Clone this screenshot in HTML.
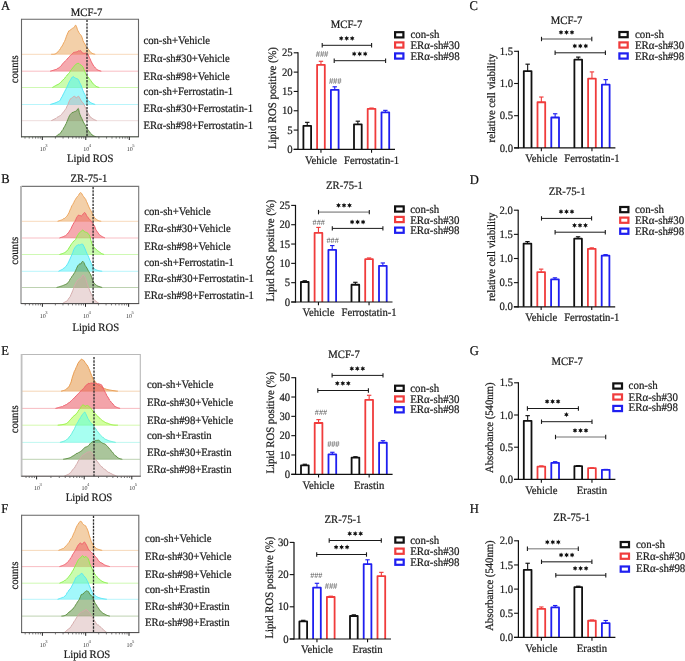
<!DOCTYPE html>
<html><head><meta charset="utf-8"><title>Figure</title>
<style>
html,body{margin:0;padding:0;background:#fff;}
body{width:685px;height:661px;overflow:hidden;}
svg{display:block;font-family:"Liberation Serif", serif;text-rendering:geometricPrecision;filter:blur(0.3px);}
</style></head>
<body>
<svg width="685" height="661" viewBox="0 0 685 661">
<rect x="0" y="0" width="685" height="661" fill="#fff"/>
<text x="0" y="0" transform="translate(1,10) scale(1,1.06)" font-size="12.6" text-anchor="start" fill="#111" stroke="#111" stroke-width="0.22" >A</text>
<text x="0" y="0" transform="translate(1.2,183) scale(1,1.06)" font-size="12.6" text-anchor="start" fill="#111" stroke="#111" stroke-width="0.22" >B</text>
<text x="0" y="0" transform="translate(469.6,9.5) scale(1,1.06)" font-size="12.6" text-anchor="start" fill="#111" stroke="#111" stroke-width="0.22" >C</text>
<text x="0" y="0" transform="translate(469.7,183.6) scale(1,1.06)" font-size="12.6" text-anchor="start" fill="#111" stroke="#111" stroke-width="0.22" >D</text>
<text x="0" y="0" transform="translate(1.2,355.4) scale(1,1.06)" font-size="12.6" text-anchor="start" fill="#111" stroke="#111" stroke-width="0.22" >E</text>
<text x="0" y="0" transform="translate(1.2,512.8) scale(1,1.06)" font-size="12.6" text-anchor="start" fill="#111" stroke="#111" stroke-width="0.22" >F</text>
<text x="0" y="0" transform="translate(469.7,355.3) scale(1,1.06)" font-size="12.6" text-anchor="start" fill="#111" stroke="#111" stroke-width="0.22" >G</text>
<text x="0" y="0" transform="translate(469.7,513) scale(1,1.06)" font-size="12.6" text-anchor="start" fill="#111" stroke="#111" stroke-width="0.22" >H</text>
<path d="M21.5,54.3 L51.2,54.3 L51.86,54.27 L52.79,54.27 L53.88,54.22 L54.99,54.02 L56,53.6 L56.91,52.93 L57.8,51.9 L58.68,50.73 L59.55,50.02 L60.4,48.7 L61.25,47.08 L62.09,46.11 L62.91,44.52 L63.72,42.73 L64.5,41.5 L65.48,39.17 L66.46,36.16 L67.36,34.05 L68.1,32.3 L68.88,30.78 L69.6,30.8 L70.56,29.62 L71.7,28.94 L72.7,28.2 L73.71,27.82 L74.5,27 L75.17,25.46 L75.8,25.2 L76.54,26.66 L77.3,29.2 L77.98,30.88 L78.8,32.3 L79.59,33.73 L80.5,34.52 L81.4,35.9 L82.22,37.85 L83.03,40.7 L83.9,42.5 L84.85,43.93 L85.87,46.26 L87,47.6 L87.76,48.5 L88.57,49.51 L89.41,50.59 L90.26,51.74 L91.1,52.7 L91.99,53.27 L92.94,53.67 L93.86,53.94 L94.64,54.14 L95.2,54.3 L138.5,54.3 Z" fill="rgba(232,165,90,0.52)" stroke="none"/>
<line x1="21.5" y1="54.3" x2="138.5" y2="54.3" stroke="#eca257" stroke-width="0.9" stroke-opacity="0.45"/>
<path d="M51.2,54.3 L51.86,54.27 L52.79,54.27 L53.88,54.22 L54.99,54.02 L56,53.6 L56.91,52.93 L57.8,51.9 L58.68,50.73 L59.55,50.02 L60.4,48.7 L61.25,47.08 L62.09,46.11 L62.91,44.52 L63.72,42.73 L64.5,41.5 L65.48,39.17 L66.46,36.16 L67.36,34.05 L68.1,32.3 L68.88,30.78 L69.6,30.8 L70.56,29.62 L71.7,28.94 L72.7,28.2 L73.71,27.82 L74.5,27 L75.17,25.46 L75.8,25.2 L76.54,26.66 L77.3,29.2 L77.98,30.88 L78.8,32.3 L79.59,33.73 L80.5,34.52 L81.4,35.9 L82.22,37.85 L83.03,40.7 L83.9,42.5 L84.85,43.93 L85.87,46.26 L87,47.6 L87.76,48.5 L88.57,49.51 L89.41,50.59 L90.26,51.74 L91.1,52.7 L91.99,53.27 L92.94,53.67 L93.86,53.94 L94.64,54.14 L95.2,54.3" fill="none" stroke="#eca257" stroke-width="0.95" stroke-linejoin="round"/>
<path d="M21.5,71.2 L50.2,71.2 L50.69,71.03 L51.33,70.84 L52.09,70.63 L52.94,70.38 L53.86,70.1 L54.81,69.78 L55.76,69.43 L56.7,69.3 L57.59,68.32 L58.4,68.1 L59.34,67.47 L60.25,66.71 L61.14,65.61 L62.01,64.82 L62.88,63.44 L63.74,62.45 L64.62,61.6 L65.5,60.9 L66.31,60.19 L67.15,59.06 L68.01,58.02 L68.86,57.29 L69.71,56.25 L70.53,55.24 L71.31,54.84 L72.04,54.05 L72.7,53.3 L73.73,52.37 L74.59,52.27 L75.34,52.04 L76.06,52.21 L76.8,51.7 L77.78,51.48 L78.76,50.68 L79.66,50.95 L80.4,50.5 L81.18,51.17 L81.9,52.7 L82.84,52.95 L83.95,53.38 L85,53.3 L85.87,53.01 L86.68,53.29 L87.5,53.8 L88.34,54.74 L89.2,57.1 L90.1,58.9 L91.03,61.14 L92,63.1 L93.1,65 L93.85,66.38 L94.66,66.94 L95.51,68.21 L96.36,68.98 L97.2,69.6 L98.09,70.14 L99.04,70.53 L99.96,70.82 L100.74,71.03 L101.3,71.2 L138.5,71.2 Z" fill="rgba(234,82,92,0.49)" stroke="none"/>
<line x1="21.5" y1="71.2" x2="138.5" y2="71.2" stroke="#f05f6c" stroke-width="0.9" stroke-opacity="0.45"/>
<path d="M50.2,71.2 L50.69,71.03 L51.33,70.84 L52.09,70.63 L52.94,70.38 L53.86,70.1 L54.81,69.78 L55.76,69.43 L56.7,69.3 L57.59,68.32 L58.4,68.1 L59.34,67.47 L60.25,66.71 L61.14,65.61 L62.01,64.82 L62.88,63.44 L63.74,62.45 L64.62,61.6 L65.5,60.9 L66.31,60.19 L67.15,59.06 L68.01,58.02 L68.86,57.29 L69.71,56.25 L70.53,55.24 L71.31,54.84 L72.04,54.05 L72.7,53.3 L73.73,52.37 L74.59,52.27 L75.34,52.04 L76.06,52.21 L76.8,51.7 L77.78,51.48 L78.76,50.68 L79.66,50.95 L80.4,50.5 L81.18,51.17 L81.9,52.7 L82.84,52.95 L83.95,53.38 L85,53.3 L85.87,53.01 L86.68,53.29 L87.5,53.8 L88.34,54.74 L89.2,57.1 L90.1,58.9 L91.03,61.14 L92,63.1 L93.1,65 L93.85,66.38 L94.66,66.94 L95.51,68.21 L96.36,68.98 L97.2,69.6 L98.09,70.14 L99.04,70.53 L99.96,70.82 L100.74,71.03 L101.3,71.2" fill="none" stroke="#f05f6c" stroke-width="0.95" stroke-linejoin="round"/>
<path d="M21.5,87.5 L52.3,87.5 L52.8,87.21 L53.45,86.84 L54.23,86.41 L55.1,85.93 L56.03,85.47 L56.99,84.81 L57.94,84.56 L58.84,84.08 L59.68,83.12 L60.4,82.6 L61.44,81.83 L62.36,80.38 L63.2,79.95 L63.99,78.94 L64.74,78.3 L65.5,77 L66.42,76.26 L67.31,74.84 L68.15,73.99 L68.92,73.35 L69.6,72.4 L70.78,70.32 L71.7,69.3 L72.72,67.94 L73.7,66.8 L74.58,65.56 L75.5,65 L76.63,63.7 L77.8,63.4 L78.92,63.4 L80,64.5 L80.96,65.17 L81.9,65.7 L82.89,66.94 L83.9,69.3 L84.83,71.54 L86,74.4 L86.66,75.31 L87.41,76.7 L88.22,77.03 L89.09,78.37 L90,79.5 L90.81,80.56 L91.69,81.97 L92.59,83.07 L93.5,84.22 L94.38,84.72 L95.2,85.7 L96.16,86.37 L97.12,86.82 L98.01,87.12 L98.76,87.33 L99.3,87.5 L138.5,87.5 Z" fill="rgba(150,250,95,0.50)" stroke="none"/>
<line x1="21.5" y1="87.5" x2="138.5" y2="87.5" stroke="#88f046" stroke-width="0.9" stroke-opacity="0.45"/>
<path d="M52.3,87.5 L52.8,87.21 L53.45,86.84 L54.23,86.41 L55.1,85.93 L56.03,85.47 L56.99,84.81 L57.94,84.56 L58.84,84.08 L59.68,83.12 L60.4,82.6 L61.44,81.83 L62.36,80.38 L63.2,79.95 L63.99,78.94 L64.74,78.3 L65.5,77 L66.42,76.26 L67.31,74.84 L68.15,73.99 L68.92,73.35 L69.6,72.4 L70.78,70.32 L71.7,69.3 L72.72,67.94 L73.7,66.8 L74.58,65.56 L75.5,65 L76.63,63.7 L77.8,63.4 L78.92,63.4 L80,64.5 L80.96,65.17 L81.9,65.7 L82.89,66.94 L83.9,69.3 L84.83,71.54 L86,74.4 L86.66,75.31 L87.41,76.7 L88.22,77.03 L89.09,78.37 L90,79.5 L90.81,80.56 L91.69,81.97 L92.59,83.07 L93.5,84.22 L94.38,84.72 L95.2,85.7 L96.16,86.37 L97.12,86.82 L98.01,87.12 L98.76,87.33 L99.3,87.5" fill="none" stroke="#88f046" stroke-width="0.95" stroke-linejoin="round"/>
<path d="M21.5,104.5 L50.2,104.5 L50.71,104.33 L51.39,104.12 L52.2,103.87 L53.11,103.59 L54.08,103.29 L55.06,102.96 L56.02,102.61 L56.92,102.18 L57.73,101.76 L58.4,101.5 L59.6,100.89 L60.42,99.97 L61.14,98.12 L62,96.9 L62.86,95.07 L63.79,93.28 L64.75,91.3 L65.7,89.54 L66.6,87.7 L67.48,85.99 L68.35,83.9 L69.2,81.94 L69.99,80.72 L70.7,79.5 L71.67,77.84 L72.46,77.03 L73.2,76.5 L74.25,77.38 L75.3,78 L76.16,78.51 L77.06,78.66 L77.8,79 L78.26,79.46 L78.8,80.5 L79.68,82.63 L80.79,84.71 L81.9,87.7 L82.9,90.46 L83.9,92.78 L85,94.9 L85.71,96.63 L86.43,98.01 L87.2,99.06 L88.04,100.34 L89,101.5 L89.82,101.81 L90.79,102.71 L91.83,103.2 L92.86,103.61 L93.82,103.97 L94.62,104.26 L95.2,104.5 L138.5,104.5 Z" fill="rgba(70,242,248,0.50)" stroke="none"/>
<line x1="21.5" y1="104.5" x2="138.5" y2="104.5" stroke="#52e6f6" stroke-width="0.9" stroke-opacity="0.45"/>
<path d="M50.2,104.5 L50.71,104.33 L51.39,104.12 L52.2,103.87 L53.11,103.59 L54.08,103.29 L55.06,102.96 L56.02,102.61 L56.92,102.18 L57.73,101.76 L58.4,101.5 L59.6,100.89 L60.42,99.97 L61.14,98.12 L62,96.9 L62.86,95.07 L63.79,93.28 L64.75,91.3 L65.7,89.54 L66.6,87.7 L67.48,85.99 L68.35,83.9 L69.2,81.94 L69.99,80.72 L70.7,79.5 L71.67,77.84 L72.46,77.03 L73.2,76.5 L74.25,77.38 L75.3,78 L76.16,78.51 L77.06,78.66 L77.8,79 L78.26,79.46 L78.8,80.5 L79.68,82.63 L80.79,84.71 L81.9,87.7 L82.9,90.46 L83.9,92.78 L85,94.9 L85.71,96.63 L86.43,98.01 L87.2,99.06 L88.04,100.34 L89,101.5 L89.82,101.81 L90.79,102.71 L91.83,103.2 L92.86,103.61 L93.82,103.97 L94.62,104.26 L95.2,104.5" fill="none" stroke="#52e6f6" stroke-width="0.95" stroke-linejoin="round"/>
<path d="M21.5,120.7 L51.2,120.7 L51.7,120.44 L52.36,120.11 L53.14,119.73 L54.02,119.31 L54.96,118.85 L55.94,118.46 L56.93,117.46 L57.89,116.92 L58.82,116.48 L59.66,115.88 L60.4,115.6 L61.42,114.56 L62.35,113.35 L63.2,112.29 L63.99,111.37 L64.73,110.25 L65.43,109.38 L66.1,108.4 L67.16,105.9 L68.07,104.35 L68.88,102.02 L69.6,100.3 L70.68,98.57 L71.7,98.2 L72.69,97.17 L73.77,96.44 L74.7,96.2 L75.54,97.09 L76.3,98.2 L77.41,96.75 L78.6,96.2 L79.71,98.17 L80.9,100.3 L81.84,101.94 L82.87,102.7 L83.9,104.3 L84.89,106.49 L85.89,108.72 L87,111.5 L87.73,112.5 L88.5,114.03 L89.3,115.23 L90.17,116.87 L91.1,117.6 L91.87,117.94 L92.75,118.79 L93.69,119.3 L94.61,119.75 L95.46,120.13 L96.18,120.45 L96.7,120.7 L138.5,120.7 Z" fill="rgba(205,160,160,0.40)" stroke="none"/>
<line x1="21.5" y1="120.7" x2="138.5" y2="120.7" stroke="#d3a9a9" stroke-width="0.9" stroke-opacity="0.45"/>
<path d="M51.2,120.7 L51.7,120.44 L52.36,120.11 L53.14,119.73 L54.02,119.31 L54.96,118.85 L55.94,118.46 L56.93,117.46 L57.89,116.92 L58.82,116.48 L59.66,115.88 L60.4,115.6 L61.42,114.56 L62.35,113.35 L63.2,112.29 L63.99,111.37 L64.73,110.25 L65.43,109.38 L66.1,108.4 L67.16,105.9 L68.07,104.35 L68.88,102.02 L69.6,100.3 L70.68,98.57 L71.7,98.2 L72.69,97.17 L73.77,96.44 L74.7,96.2 L75.54,97.09 L76.3,98.2 L77.41,96.75 L78.6,96.2 L79.71,98.17 L80.9,100.3 L81.84,101.94 L82.87,102.7 L83.9,104.3 L84.89,106.49 L85.89,108.72 L87,111.5 L87.73,112.5 L88.5,114.03 L89.3,115.23 L90.17,116.87 L91.1,117.6 L91.87,117.94 L92.75,118.79 L93.69,119.3 L94.61,119.75 L95.46,120.13 L96.18,120.45 L96.7,120.7" fill="none" stroke="#d3a9a9" stroke-width="0.95" stroke-linejoin="round"/>
<path d="M21.5,136.8 L55.3,136.8 L55.87,136.41 L56.66,135.9 L57.59,135.29 L58.59,134.18 L59.55,134.2 L60.4,133 L61.28,131.99 L62.11,130.54 L62.91,129.65 L63.7,127.87 L64.5,126.8 L65.34,125.09 L66.21,123.49 L67.07,121.36 L67.88,119.33 L68.6,117.6 L69.54,115.58 L70.32,114.41 L71.2,113.5 L72.04,112.55 L72.98,112.53 L73.9,111.91 L74.7,111.5 L75.87,111.24 L76.8,110.5 L77.62,108.99 L78.3,108.4 L78.73,109.7 L79.3,112.5 L80.03,114.68 L80.94,116.97 L81.9,118.7 L82.9,121.07 L83.96,123.1 L85,124.8 L85.97,126.84 L86.92,128.44 L88,129.9 L88.75,130.74 L89.56,132.11 L90.41,133.08 L91.26,133.8 L92.1,135 L92.99,135.6 L93.94,136.04 L94.86,136.37 L95.64,136.61 L96.2,136.8 L138.5,136.8 Z" fill="rgba(85,140,55,0.50)" stroke="none"/>
<line x1="21.5" y1="136.8" x2="138.5" y2="136.8" stroke="#5b8f3f" stroke-width="0.9" stroke-opacity="0.45"/>
<path d="M55.3,136.8 L55.87,136.41 L56.66,135.9 L57.59,135.29 L58.59,134.18 L59.55,134.2 L60.4,133 L61.28,131.99 L62.11,130.54 L62.91,129.65 L63.7,127.87 L64.5,126.8 L65.34,125.09 L66.21,123.49 L67.07,121.36 L67.88,119.33 L68.6,117.6 L69.54,115.58 L70.32,114.41 L71.2,113.5 L72.04,112.55 L72.98,112.53 L73.9,111.91 L74.7,111.5 L75.87,111.24 L76.8,110.5 L77.62,108.99 L78.3,108.4 L78.73,109.7 L79.3,112.5 L80.03,114.68 L80.94,116.97 L81.9,118.7 L82.9,121.07 L83.96,123.1 L85,124.8 L85.97,126.84 L86.92,128.44 L88,129.9 L88.75,130.74 L89.56,132.11 L90.41,133.08 L91.26,133.8 L92.1,135 L92.99,135.6 L93.94,136.04 L94.86,136.37 L95.64,136.61 L96.2,136.8" fill="none" stroke="#5b8f3f" stroke-width="0.95" stroke-linejoin="round"/>
<line x1="87" y1="19.8" x2="87" y2="136.8" stroke="#2a2a2a" stroke-width="1.3" stroke-dasharray="2.3,1.05"/>
<path d="M138.5,136.8 L138.5,19.3 L21.5,19.3" fill="none" stroke="#666" stroke-width="1.1"/>
<line x1="21.5" y1="18.8" x2="21.5" y2="137.3" stroke="#666" stroke-width="1.1" />
<line x1="21" y1="136.8" x2="139" y2="136.8" stroke="#444" stroke-width="1.0" />
<line x1="24.99" y1="136.8" x2="24.99" y2="138.6" stroke="#555" stroke-width="0.8" />
<line x1="29.21" y1="136.8" x2="29.21" y2="138.6" stroke="#555" stroke-width="0.8" />
<line x1="32.65" y1="136.8" x2="32.65" y2="138.6" stroke="#555" stroke-width="0.8" />
<line x1="35.56" y1="136.8" x2="35.56" y2="138.6" stroke="#555" stroke-width="0.8" />
<line x1="38.08" y1="136.8" x2="38.08" y2="138.6" stroke="#555" stroke-width="0.8" />
<line x1="40.31" y1="136.8" x2="40.31" y2="138.6" stroke="#555" stroke-width="0.8" />
<line x1="42.3" y1="136.8" x2="42.3" y2="140" stroke="#222" stroke-width="1.0" />
<line x1="55.39" y1="136.8" x2="55.39" y2="138.6" stroke="#555" stroke-width="0.8" />
<line x1="63.05" y1="136.8" x2="63.05" y2="138.6" stroke="#555" stroke-width="0.8" />
<line x1="68.49" y1="136.8" x2="68.49" y2="138.6" stroke="#555" stroke-width="0.8" />
<line x1="72.71" y1="136.8" x2="72.71" y2="138.6" stroke="#555" stroke-width="0.8" />
<line x1="76.15" y1="136.8" x2="76.15" y2="138.6" stroke="#555" stroke-width="0.8" />
<line x1="79.06" y1="136.8" x2="79.06" y2="138.6" stroke="#555" stroke-width="0.8" />
<line x1="81.58" y1="136.8" x2="81.58" y2="138.6" stroke="#555" stroke-width="0.8" />
<line x1="83.81" y1="136.8" x2="83.81" y2="138.6" stroke="#555" stroke-width="0.8" />
<line x1="85.8" y1="136.8" x2="85.8" y2="140" stroke="#222" stroke-width="1.0" />
<line x1="98.89" y1="136.8" x2="98.89" y2="138.6" stroke="#555" stroke-width="0.8" />
<line x1="106.55" y1="136.8" x2="106.55" y2="138.6" stroke="#555" stroke-width="0.8" />
<line x1="111.99" y1="136.8" x2="111.99" y2="138.6" stroke="#555" stroke-width="0.8" />
<line x1="116.21" y1="136.8" x2="116.21" y2="138.6" stroke="#555" stroke-width="0.8" />
<line x1="119.65" y1="136.8" x2="119.65" y2="138.6" stroke="#555" stroke-width="0.8" />
<line x1="122.56" y1="136.8" x2="122.56" y2="138.6" stroke="#555" stroke-width="0.8" />
<line x1="125.08" y1="136.8" x2="125.08" y2="138.6" stroke="#555" stroke-width="0.8" />
<line x1="127.31" y1="136.8" x2="127.31" y2="138.6" stroke="#555" stroke-width="0.8" />
<line x1="129.3" y1="136.8" x2="129.3" y2="140" stroke="#222" stroke-width="1.0" />
<text x="42.7" y="150.8" font-size="6.0" text-anchor="middle" fill="#3a3a3a" >10</text>
<text x="45.2" y="147" font-size="4.6" text-anchor="start" fill="#3a3a3a" >3</text>
<text x="86.2" y="150.8" font-size="6.0" text-anchor="middle" fill="#3a3a3a" >10</text>
<text x="88.7" y="147" font-size="4.6" text-anchor="start" fill="#3a3a3a" >4</text>
<text x="129.7" y="150.8" font-size="6.0" text-anchor="middle" fill="#3a3a3a" >10</text>
<text x="132.2" y="147" font-size="4.6" text-anchor="start" fill="#3a3a3a" >5</text>
<text x="0" y="0" transform="translate(90.2,162.4) scale(1,1.06)" font-size="10.7" text-anchor="middle" fill="#1c1c1c" stroke="#1c1c1c" stroke-width="0.22" >Lipid ROS</text>
<text x="0" y="0" font-size="10.7" text-anchor="middle" fill="#1c1c1c" stroke="#1c1c1c" stroke-width="0.22" transform="translate(17.9,69.3) rotate(-90) scale(1,1.06)">counts</text>
<text x="0" y="0" transform="translate(86.6,16) scale(1,1.06)" font-size="10.7" text-anchor="middle" fill="#1c1c1c" stroke="#1c1c1c" stroke-width="0.22" >MCF-7</text>
<text x="0" y="0" transform="translate(143.4,43.8) scale(1,1.06)" font-size="10.7" text-anchor="start" fill="#1c1c1c" stroke="#1c1c1c" stroke-width="0.22" >con-sh+Vehicle</text>
<text x="0" y="0" transform="translate(143.4,61.8) scale(1,1.06)" font-size="10.7" text-anchor="start" fill="#1c1c1c" stroke="#1c1c1c" stroke-width="0.22" >ERα-sh#30+Vehicle</text>
<text x="0" y="0" transform="translate(143.4,79.7) scale(1,1.06)" font-size="10.7" text-anchor="start" fill="#1c1c1c" stroke="#1c1c1c" stroke-width="0.22" >ERα-sh#98+Vehicle</text>
<text x="0" y="0" transform="translate(143.4,95) scale(1,1.06)" font-size="10.7" text-anchor="start" fill="#1c1c1c" stroke="#1c1c1c" stroke-width="0.22" >con-sh+Ferrostatin-1</text>
<text x="0" y="0" transform="translate(143.4,112.2) scale(1,1.06)" font-size="10.7" text-anchor="start" fill="#1c1c1c" stroke="#1c1c1c" stroke-width="0.22" >ERα-sh#30+Ferrostatin-1</text>
<text x="0" y="0" transform="translate(143.4,128.5) scale(1,1.06)" font-size="10.7" text-anchor="start" fill="#1c1c1c" stroke="#1c1c1c" stroke-width="0.22" >ERα-sh#98+Ferrostatin-1</text>
<path d="M21.5,221.3 L57.6,221.3 L58.13,221.11 L58.85,220.87 L59.71,220.59 L60.66,220.27 L61.64,219.91 L62.59,219.53 L63.46,218.73 L64.2,218.7 L65.35,217.66 L66.27,216.72 L67.12,215.97 L68,214.4 L68.95,212.91 L69.9,210.26 L70.85,208.36 L71.8,205.9 L72.77,204.44 L73.76,202.64 L74.71,200.52 L75.6,199.2 L76.66,197.45 L77.63,196.26 L78.5,195.4 L79.6,193.33 L80.6,192.6 L81.6,193.34 L82.7,195.4 L83.63,196.63 L84.64,198.09 L85.6,199.2 L86.42,201.25 L87.19,202.91 L88,204.9 L88.9,206.93 L89.84,208.95 L90.8,210.6 L91.73,212.22 L92.67,214.68 L93.7,216.3 L94.57,217.79 L95.49,218.72 L96.45,219.38 L97.4,220.1 L98.43,220.61 L99.53,220.94 L100.51,221.15 L101.2,221.3 L138.7,221.3 Z" fill="rgba(232,165,90,0.52)" stroke="none"/>
<line x1="21.5" y1="221.3" x2="138.7" y2="221.3" stroke="#eca257" stroke-width="0.9" stroke-opacity="0.45"/>
<path d="M57.6,221.3 L58.13,221.11 L58.85,220.87 L59.71,220.59 L60.66,220.27 L61.64,219.91 L62.59,219.53 L63.46,218.73 L64.2,218.7 L65.35,217.66 L66.27,216.72 L67.12,215.97 L68,214.4 L68.95,212.91 L69.9,210.26 L70.85,208.36 L71.8,205.9 L72.77,204.44 L73.76,202.64 L74.71,200.52 L75.6,199.2 L76.66,197.45 L77.63,196.26 L78.5,195.4 L79.6,193.33 L80.6,192.6 L81.6,193.34 L82.7,195.4 L83.63,196.63 L84.64,198.09 L85.6,199.2 L86.42,201.25 L87.19,202.91 L88,204.9 L88.9,206.93 L89.84,208.95 L90.8,210.6 L91.73,212.22 L92.67,214.68 L93.7,216.3 L94.57,217.79 L95.49,218.72 L96.45,219.38 L97.4,220.1 L98.43,220.61 L99.53,220.94 L100.51,221.15 L101.2,221.3" fill="none" stroke="#eca257" stroke-width="0.95" stroke-linejoin="round"/>
<path d="M21.5,238 L59.5,238 L60.02,237.78 L60.71,237.54 L61.54,237.25 L62.46,236.92 L63.44,236.54 L64.43,236.09 L65.39,235.79 L66.3,234.96 L67.1,234.3 L68.02,232.98 L68.9,232.25 L69.73,230.49 L70.53,229.42 L71.3,228.09 L72.05,226.16 L72.8,224.9 L73.85,222.92 L74.89,221.41 L75.87,219.34 L76.76,217.24 L77.5,216.3 L78.62,214.96 L79.4,215.4 L80.28,215.57 L81.3,216 L82.28,215.24 L83.4,213.6 L84.4,212.5 L85.43,213.17 L86.5,215.4 L87.25,216.61 L88.09,217.75 L88.99,218.57 L89.9,219.6 L90.85,220.71 L91.84,222.2 L92.81,223.22 L93.7,224.9 L94.67,226.37 L95.53,229.08 L96.5,230.5 L97.36,231.93 L98.28,233.1 L99.26,234.63 L100.3,235.3 L101.26,236.02 L102.34,236.66 L103.42,237.22 L104.35,237.67 L105,238 L138.7,238 Z" fill="rgba(234,82,92,0.49)" stroke="none"/>
<line x1="21.5" y1="238" x2="138.7" y2="238" stroke="#f05f6c" stroke-width="0.9" stroke-opacity="0.45"/>
<path d="M59.5,238 L60.02,237.78 L60.71,237.54 L61.54,237.25 L62.46,236.92 L63.44,236.54 L64.43,236.09 L65.39,235.79 L66.3,234.96 L67.1,234.3 L68.02,232.98 L68.9,232.25 L69.73,230.49 L70.53,229.42 L71.3,228.09 L72.05,226.16 L72.8,224.9 L73.85,222.92 L74.89,221.41 L75.87,219.34 L76.76,217.24 L77.5,216.3 L78.62,214.96 L79.4,215.4 L80.28,215.57 L81.3,216 L82.28,215.24 L83.4,213.6 L84.4,212.5 L85.43,213.17 L86.5,215.4 L87.25,216.61 L88.09,217.75 L88.99,218.57 L89.9,219.6 L90.85,220.71 L91.84,222.2 L92.81,223.22 L93.7,224.9 L94.67,226.37 L95.53,229.08 L96.5,230.5 L97.36,231.93 L98.28,233.1 L99.26,234.63 L100.3,235.3 L101.26,236.02 L102.34,236.66 L103.42,237.22 L104.35,237.67 L105,238" fill="none" stroke="#f05f6c" stroke-width="0.95" stroke-linejoin="round"/>
<path d="M21.5,254.5 L59.5,254.5 L60.03,254.32 L60.77,254.09 L61.64,253.82 L62.59,253.51 L63.54,253.15 L64.44,252.74 L65.2,252.3 L66.28,251.35 L67.22,250.68 L68.09,249.5 L69,248 L69.97,246.36 L70.96,244.85 L71.92,243.38 L72.8,242.3 L73.84,240.97 L74.77,240.47 L75.6,239.5 L76.54,237.46 L77.5,235.7 L78.41,234.29 L79.44,232.72 L80.4,231.9 L81.61,230.94 L82.7,230 L83.61,230.65 L84.6,231.9 L85.51,232.13 L86.53,232.39 L87.5,232.8 L88.34,234.05 L89.13,234.88 L89.9,236.6 L90.99,240.69 L92.2,244.2 L92.92,245.62 L93.69,246.86 L94.55,247.96 L95.5,249 L96.38,249.45 L97.36,250.64 L98.38,251.21 L99.38,251.77 L100.3,252.8 L101.41,253.41 L102.5,253.89 L103.44,254.24 L104.1,254.5 L138.7,254.5 Z" fill="rgba(150,250,95,0.50)" stroke="none"/>
<line x1="21.5" y1="254.5" x2="138.7" y2="254.5" stroke="#88f046" stroke-width="0.9" stroke-opacity="0.45"/>
<path d="M59.5,254.5 L60.03,254.32 L60.77,254.09 L61.64,253.82 L62.59,253.51 L63.54,253.15 L64.44,252.74 L65.2,252.3 L66.28,251.35 L67.22,250.68 L68.09,249.5 L69,248 L69.97,246.36 L70.96,244.85 L71.92,243.38 L72.8,242.3 L73.84,240.97 L74.77,240.47 L75.6,239.5 L76.54,237.46 L77.5,235.7 L78.41,234.29 L79.44,232.72 L80.4,231.9 L81.61,230.94 L82.7,230 L83.61,230.65 L84.6,231.9 L85.51,232.13 L86.53,232.39 L87.5,232.8 L88.34,234.05 L89.13,234.88 L89.9,236.6 L90.99,240.69 L92.2,244.2 L92.92,245.62 L93.69,246.86 L94.55,247.96 L95.5,249 L96.38,249.45 L97.36,250.64 L98.38,251.21 L99.38,251.77 L100.3,252.8 L101.41,253.41 L102.5,253.89 L103.44,254.24 L104.1,254.5" fill="none" stroke="#88f046" stroke-width="0.95" stroke-linejoin="round"/>
<path d="M21.5,271.3 L58.5,271.3 L59.03,271.01 L59.77,270.64 L60.64,270.2 L61.59,269.69 L62.54,269.4 L63.44,268.3 L64.2,268 L65.28,266.97 L66.22,266.11 L67.09,264.74 L68,263.2 L68.97,261.15 L69.96,259.08 L70.91,256.83 L71.8,254.7 L72.84,252.43 L73.77,249.55 L74.7,248 L75.64,246.74 L76.56,245.61 L77.5,245.2 L78.48,244.68 L79.47,245.01 L80.4,244.7 L81.58,244.13 L82.7,244.2 L83.86,246.21 L85.1,249 L86.03,251.28 L87.02,253.67 L88,255.6 L88.94,257.82 L89.86,260.23 L90.8,262.3 L91.73,264.4 L92.67,266.4 L93.7,268 L94.54,269.01 L95.43,269.44 L96.38,269.9 L97.4,270.3 L98.37,270.6 L99.47,270.84 L100.57,271.03 L101.53,271.18 L102.2,271.3 L138.7,271.3 Z" fill="rgba(70,242,248,0.50)" stroke="none"/>
<line x1="21.5" y1="271.3" x2="138.7" y2="271.3" stroke="#52e6f6" stroke-width="0.9" stroke-opacity="0.45"/>
<path d="M58.5,271.3 L59.03,271.01 L59.77,270.64 L60.64,270.2 L61.59,269.69 L62.54,269.4 L63.44,268.3 L64.2,268 L65.28,266.97 L66.22,266.11 L67.09,264.74 L68,263.2 L68.97,261.15 L69.96,259.08 L70.91,256.83 L71.8,254.7 L72.84,252.43 L73.77,249.55 L74.7,248 L75.64,246.74 L76.56,245.61 L77.5,245.2 L78.48,244.68 L79.47,245.01 L80.4,244.7 L81.58,244.13 L82.7,244.2 L83.86,246.21 L85.1,249 L86.03,251.28 L87.02,253.67 L88,255.6 L88.94,257.82 L89.86,260.23 L90.8,262.3 L91.73,264.4 L92.67,266.4 L93.7,268 L94.54,269.01 L95.43,269.44 L96.38,269.9 L97.4,270.3 L98.37,270.6 L99.47,270.84 L100.57,271.03 L101.53,271.18 L102.2,271.3" fill="none" stroke="#52e6f6" stroke-width="0.95" stroke-linejoin="round"/>
<path d="M21.5,287.5 L56.6,287.5 L57.13,287.34 L57.86,287.13 L58.73,286.88 L59.68,286.6 L60.67,286.3 L61.64,286 L62.53,285.69 L63.3,285.4 L64.34,284.93 L65.26,284.58 L66.1,284.09 L66.87,283.98 L67.6,283 L68.63,281.89 L69.49,280.55 L70.4,278.7 L71.2,277.95 L72.04,276.24 L72.89,275.3 L73.7,274 L74.72,272.48 L75.69,270.38 L76.6,268.3 L77.81,265.77 L78.9,264.5 L79.88,263.87 L80.8,264 L81.72,262.26 L82.7,261.2 L83.84,262.47 L85.1,265.4 L86.03,266.74 L87.02,268.23 L88,270.2 L88.96,271.84 L89.9,273.43 L90.8,274.9 L91.6,277.43 L92.35,279.22 L93.2,281.6 L93.91,282.98 L94.64,283.92 L95.49,284.34 L96.5,285.4 L97.24,285.81 L98.12,286.19 L99.07,286.53 L100.03,286.84 L100.92,287.1 L101.66,287.33 L102.2,287.5 L138.7,287.5 Z" fill="rgba(85,140,55,0.50)" stroke="none"/>
<line x1="21.5" y1="287.5" x2="138.7" y2="287.5" stroke="#5b8f3f" stroke-width="0.9" stroke-opacity="0.45"/>
<path d="M56.6,287.5 L57.13,287.34 L57.86,287.13 L58.73,286.88 L59.68,286.6 L60.67,286.3 L61.64,286 L62.53,285.69 L63.3,285.4 L64.34,284.93 L65.26,284.58 L66.1,284.09 L66.87,283.98 L67.6,283 L68.63,281.89 L69.49,280.55 L70.4,278.7 L71.2,277.95 L72.04,276.24 L72.89,275.3 L73.7,274 L74.72,272.48 L75.69,270.38 L76.6,268.3 L77.81,265.77 L78.9,264.5 L79.88,263.87 L80.8,264 L81.72,262.26 L82.7,261.2 L83.84,262.47 L85.1,265.4 L86.03,266.74 L87.02,268.23 L88,270.2 L88.96,271.84 L89.9,273.43 L90.8,274.9 L91.6,277.43 L92.35,279.22 L93.2,281.6 L93.91,282.98 L94.64,283.92 L95.49,284.34 L96.5,285.4 L97.24,285.81 L98.12,286.19 L99.07,286.53 L100.03,286.84 L100.92,287.1 L101.66,287.33 L102.2,287.5" fill="none" stroke="#5b8f3f" stroke-width="0.95" stroke-linejoin="round"/>
<path d="M21.5,303.6 L62.3,303.6 L62.83,303.26 L63.57,302.82 L64.44,302.3 L65.39,301.71 L66.34,301.37 L67.24,300.74 L68,299.6 L69.12,297.9 L70.11,296.85 L70.99,294.63 L71.8,293 L72.7,290.69 L73.45,288.8 L74.2,286.3 L75.41,283.96 L76.6,281.6 L77.75,279.91 L78.9,279.2 L80.14,278.47 L81.3,277.8 L82.14,276.04 L83,274.9 L83.81,275.39 L84.71,276.65 L85.6,278.7 L86.4,280.83 L87.18,283.88 L88,286.3 L88.89,288.2 L89.81,290.85 L90.8,293 L91.55,294.67 L92.3,296.06 L93.13,297.99 L94.1,299.6 L94.92,300.57 L95.89,301.28 L96.91,302.01 L97.88,302.66 L98.71,303.19 L99.3,303.6 L138.7,303.6 Z" fill="rgba(205,160,160,0.40)" stroke="none"/>
<line x1="21.5" y1="303.6" x2="138.7" y2="303.6" stroke="#d3a9a9" stroke-width="0.9" stroke-opacity="0.45"/>
<path d="M62.3,303.6 L62.83,303.26 L63.57,302.82 L64.44,302.3 L65.39,301.71 L66.34,301.37 L67.24,300.74 L68,299.6 L69.12,297.9 L70.11,296.85 L70.99,294.63 L71.8,293 L72.7,290.69 L73.45,288.8 L74.2,286.3 L75.41,283.96 L76.6,281.6 L77.75,279.91 L78.9,279.2 L80.14,278.47 L81.3,277.8 L82.14,276.04 L83,274.9 L83.81,275.39 L84.71,276.65 L85.6,278.7 L86.4,280.83 L87.18,283.88 L88,286.3 L88.89,288.2 L89.81,290.85 L90.8,293 L91.55,294.67 L92.3,296.06 L93.13,297.99 L94.1,299.6 L94.92,300.57 L95.89,301.28 L96.91,302.01 L97.88,302.66 L98.71,303.19 L99.3,303.6" fill="none" stroke="#d3a9a9" stroke-width="0.95" stroke-linejoin="round"/>
<line x1="93.1" y1="186.9" x2="93.1" y2="303.6" stroke="#2a2a2a" stroke-width="1.3" stroke-dasharray="2.3,1.05"/>
<path d="M138.7,303.6 L138.7,186.4 L21.5,186.4" fill="none" stroke="#777" stroke-width="1.1"/>
<line x1="21" y1="185.9" x2="21" y2="304.1" stroke="#b0b0b0" stroke-width="1.8" />
<line x1="21" y1="303.6" x2="139.2" y2="303.6" stroke="#444" stroke-width="1.0" />
<line x1="25.25" y1="303.6" x2="25.25" y2="305.4" stroke="#555" stroke-width="0.8" />
<line x1="29.43" y1="303.6" x2="29.43" y2="305.4" stroke="#555" stroke-width="0.8" />
<line x1="32.84" y1="303.6" x2="32.84" y2="305.4" stroke="#555" stroke-width="0.8" />
<line x1="35.72" y1="303.6" x2="35.72" y2="305.4" stroke="#555" stroke-width="0.8" />
<line x1="38.22" y1="303.6" x2="38.22" y2="305.4" stroke="#555" stroke-width="0.8" />
<line x1="40.43" y1="303.6" x2="40.43" y2="305.4" stroke="#555" stroke-width="0.8" />
<line x1="42.4" y1="303.6" x2="42.4" y2="306.8" stroke="#222" stroke-width="1.0" />
<line x1="55.37" y1="303.6" x2="55.37" y2="305.4" stroke="#555" stroke-width="0.8" />
<line x1="62.96" y1="303.6" x2="62.96" y2="305.4" stroke="#555" stroke-width="0.8" />
<line x1="68.35" y1="303.6" x2="68.35" y2="305.4" stroke="#555" stroke-width="0.8" />
<line x1="72.53" y1="303.6" x2="72.53" y2="305.4" stroke="#555" stroke-width="0.8" />
<line x1="75.94" y1="303.6" x2="75.94" y2="305.4" stroke="#555" stroke-width="0.8" />
<line x1="78.82" y1="303.6" x2="78.82" y2="305.4" stroke="#555" stroke-width="0.8" />
<line x1="81.32" y1="303.6" x2="81.32" y2="305.4" stroke="#555" stroke-width="0.8" />
<line x1="83.53" y1="303.6" x2="83.53" y2="305.4" stroke="#555" stroke-width="0.8" />
<line x1="85.5" y1="303.6" x2="85.5" y2="306.8" stroke="#222" stroke-width="1.0" />
<line x1="98.47" y1="303.6" x2="98.47" y2="305.4" stroke="#555" stroke-width="0.8" />
<line x1="106.06" y1="303.6" x2="106.06" y2="305.4" stroke="#555" stroke-width="0.8" />
<line x1="111.45" y1="303.6" x2="111.45" y2="305.4" stroke="#555" stroke-width="0.8" />
<line x1="115.63" y1="303.6" x2="115.63" y2="305.4" stroke="#555" stroke-width="0.8" />
<line x1="119.04" y1="303.6" x2="119.04" y2="305.4" stroke="#555" stroke-width="0.8" />
<line x1="121.92" y1="303.6" x2="121.92" y2="305.4" stroke="#555" stroke-width="0.8" />
<line x1="124.42" y1="303.6" x2="124.42" y2="305.4" stroke="#555" stroke-width="0.8" />
<line x1="126.63" y1="303.6" x2="126.63" y2="305.4" stroke="#555" stroke-width="0.8" />
<line x1="128.6" y1="303.6" x2="128.6" y2="306.8" stroke="#222" stroke-width="1.0" />
<text x="42.8" y="317.6" font-size="6.0" text-anchor="middle" fill="#3a3a3a" >10</text>
<text x="45.3" y="313.8" font-size="4.6" text-anchor="start" fill="#3a3a3a" >3</text>
<text x="85.9" y="317.6" font-size="6.0" text-anchor="middle" fill="#3a3a3a" >10</text>
<text x="88.4" y="313.8" font-size="4.6" text-anchor="start" fill="#3a3a3a" >4</text>
<text x="129" y="317.6" font-size="6.0" text-anchor="middle" fill="#3a3a3a" >10</text>
<text x="131.5" y="313.8" font-size="4.6" text-anchor="start" fill="#3a3a3a" >5</text>
<text x="0" y="0" transform="translate(95.8,331.2) scale(1,1.06)" font-size="10.7" text-anchor="middle" fill="#1c1c1c" stroke="#1c1c1c" stroke-width="0.22" >Lipid ROS</text>
<text x="0" y="0" font-size="10.7" text-anchor="middle" fill="#1c1c1c" stroke="#1c1c1c" stroke-width="0.22" transform="translate(17.9,250.9) rotate(-90) scale(1,1.06)">counts</text>
<text x="0" y="0" transform="translate(88.9,181.9) scale(1,1.06)" font-size="10.7" text-anchor="middle" fill="#1c1c1c" stroke="#1c1c1c" stroke-width="0.22" >ZR-75-1</text>
<text x="0" y="0" transform="translate(144.2,214.8) scale(1,1.06)" font-size="10.7" text-anchor="start" fill="#1c1c1c" stroke="#1c1c1c" stroke-width="0.22" >con-sh+Vehicle</text>
<text x="0" y="0" transform="translate(144.2,231.8) scale(1,1.06)" font-size="10.7" text-anchor="start" fill="#1c1c1c" stroke="#1c1c1c" stroke-width="0.22" >ERα-sh#30+Vehicle</text>
<text x="0" y="0" transform="translate(144.2,249.7) scale(1,1.06)" font-size="10.7" text-anchor="start" fill="#1c1c1c" stroke="#1c1c1c" stroke-width="0.22" >ERα-sh#98+Vehicle</text>
<text x="0" y="0" transform="translate(144.2,265.6) scale(1,1.06)" font-size="10.7" text-anchor="start" fill="#1c1c1c" stroke="#1c1c1c" stroke-width="0.22" >con-sh+Ferrostatin-1</text>
<text x="0" y="0" transform="translate(144.2,282.2) scale(1,1.06)" font-size="10.7" text-anchor="start" fill="#1c1c1c" stroke="#1c1c1c" stroke-width="0.22" >ERα-sh#30+Ferrostatin-1</text>
<text x="0" y="0" transform="translate(144.2,298.5) scale(1,1.06)" font-size="10.7" text-anchor="start" fill="#1c1c1c" stroke="#1c1c1c" stroke-width="0.22" >ERα-sh#98+Ferrostatin-1</text>
<path d="M21.8,391.2 L61,391.2 L61.6,391.02 L62.46,390.81 L63.46,390.54 L64.51,390.19 L65.52,389.75 L66.4,389.2 L67.5,387.83 L68.49,387.4 L69.41,385.79 L70.3,383.8 L71.15,381.99 L71.94,378.66 L72.71,376.13 L73.5,373.9 L74.34,371.35 L75.21,369.93 L76.05,367.64 L76.8,366.2 L77.93,363.43 L79,361.9 L79.87,360.56 L80.81,359.87 L81.8,359.1 L82.58,359.75 L83.4,360.13 L84.22,361.1 L85,362.4 L85.97,363.88 L86.89,364.77 L87.8,366.2 L88.73,368.4 L89.64,370.23 L90.5,372.8 L91.56,375.32 L92.7,378.3 L93.42,379.66 L94.21,380.57 L95.07,381.34 L96,382.7 L96.81,383.81 L97.69,384.24 L98.59,385.03 L99.51,385.05 L100.4,386 L101.23,386.9 L102.02,386.81 L102.82,388.03 L103.69,388.2 L104.7,388.7 L105.41,388.82 L106.19,389.24 L107.01,389.41 L107.86,389.61 L108.72,389.8 L109.6,389.97 L110.46,390.14 L111.3,390.3 L112.17,390.45 L113.1,390.6 L114.07,390.73 L115.01,390.85 L115.91,390.96 L116.71,391.05 L117.39,391.14 L117.9,391.2 L140.3,391.2 Z" fill="rgba(228,150,70,0.55)" stroke="none"/>
<line x1="21.8" y1="391.2" x2="140.3" y2="391.2" stroke="#e89848" stroke-width="0.9" stroke-opacity="0.45"/>
<path d="M61,391.2 L61.6,391.02 L62.46,390.81 L63.46,390.54 L64.51,390.19 L65.52,389.75 L66.4,389.2 L67.5,387.83 L68.49,387.4 L69.41,385.79 L70.3,383.8 L71.15,381.99 L71.94,378.66 L72.71,376.13 L73.5,373.9 L74.34,371.35 L75.21,369.93 L76.05,367.64 L76.8,366.2 L77.93,363.43 L79,361.9 L79.87,360.56 L80.81,359.87 L81.8,359.1 L82.58,359.75 L83.4,360.13 L84.22,361.1 L85,362.4 L85.97,363.88 L86.89,364.77 L87.8,366.2 L88.73,368.4 L89.64,370.23 L90.5,372.8 L91.56,375.32 L92.7,378.3 L93.42,379.66 L94.21,380.57 L95.07,381.34 L96,382.7 L96.81,383.81 L97.69,384.24 L98.59,385.03 L99.51,385.05 L100.4,386 L101.23,386.9 L102.02,386.81 L102.82,388.03 L103.69,388.2 L104.7,388.7 L105.41,388.82 L106.19,389.24 L107.01,389.41 L107.86,389.61 L108.72,389.8 L109.6,389.97 L110.46,390.14 L111.3,390.3 L112.17,390.45 L113.1,390.6 L114.07,390.73 L115.01,390.85 L115.91,390.96 L116.71,391.05 L117.39,391.14 L117.9,391.2" fill="none" stroke="#e89848" stroke-width="0.95" stroke-linejoin="round"/>
<path d="M21.8,408.4 L55.5,408.4 L56.03,408.24 L56.73,408.04 L57.57,407.81 L58.51,407.54 L59.51,407.26 L60.53,406.95 L61.55,406.64 L62.53,406.68 L63.42,405.81 L64.2,405.7 L65.31,404.89 L66.31,404.71 L67.22,403.94 L68.07,403.28 L68.88,402.74 L69.7,402.4 L70.65,401.21 L71.54,400.47 L72.39,399.65 L73.24,398.73 L74.1,398 L74.98,397.34 L75.86,396.06 L76.75,395.36 L77.63,394.21 L78.5,393.6 L79.36,392.6 L80.22,391.46 L81.08,390.79 L81.94,389.7 L82.8,389.2 L83.69,388.39 L84.61,387.14 L85.51,385.75 L86.39,385.02 L87.2,384.3 L88.08,384.1 L88.85,383.11 L89.62,383.58 L90.5,383.2 L91.33,383.06 L92.23,383.09 L93.17,383.39 L94.07,383.05 L94.9,383.2 L95.8,383.3 L96.62,383.6 L97.4,384.01 L98.2,383.8 L99.05,383.81 L99.92,384.34 L100.75,384.48 L101.5,384.8 L102.61,386.76 L103.7,389.2 L104.4,390.62 L105.16,392.23 L105.99,393.72 L106.9,395.8 L107.7,396.85 L108.57,398.19 L109.48,400.13 L110.4,401.02 L111.3,402.4 L112.18,403.17 L113.06,404.06 L113.94,405.56 L114.82,406.35 L115.7,406.7 L116.65,407.23 L117.67,407.65 L118.66,407.97 L119.5,408.21 L120.1,408.4 L140.3,408.4 Z" fill="rgba(232,78,90,0.52)" stroke="none"/>
<line x1="21.8" y1="408.4" x2="140.3" y2="408.4" stroke="#ee5a68" stroke-width="0.9" stroke-opacity="0.45"/>
<path d="M55.5,408.4 L56.03,408.24 L56.73,408.04 L57.57,407.81 L58.51,407.54 L59.51,407.26 L60.53,406.95 L61.55,406.64 L62.53,406.68 L63.42,405.81 L64.2,405.7 L65.31,404.89 L66.31,404.71 L67.22,403.94 L68.07,403.28 L68.88,402.74 L69.7,402.4 L70.65,401.21 L71.54,400.47 L72.39,399.65 L73.24,398.73 L74.1,398 L74.98,397.34 L75.86,396.06 L76.75,395.36 L77.63,394.21 L78.5,393.6 L79.36,392.6 L80.22,391.46 L81.08,390.79 L81.94,389.7 L82.8,389.2 L83.69,388.39 L84.61,387.14 L85.51,385.75 L86.39,385.02 L87.2,384.3 L88.08,384.1 L88.85,383.11 L89.62,383.58 L90.5,383.2 L91.33,383.06 L92.23,383.09 L93.17,383.39 L94.07,383.05 L94.9,383.2 L95.8,383.3 L96.62,383.6 L97.4,384.01 L98.2,383.8 L99.05,383.81 L99.92,384.34 L100.75,384.48 L101.5,384.8 L102.61,386.76 L103.7,389.2 L104.4,390.62 L105.16,392.23 L105.99,393.72 L106.9,395.8 L107.7,396.85 L108.57,398.19 L109.48,400.13 L110.4,401.02 L111.3,402.4 L112.18,403.17 L113.06,404.06 L113.94,405.56 L114.82,406.35 L115.7,406.7 L116.65,407.23 L117.67,407.65 L118.66,407.97 L119.5,408.21 L120.1,408.4" fill="none" stroke="#ee5a68" stroke-width="0.95" stroke-linejoin="round"/>
<path d="M21.8,425.2 L57.7,425.2 L58.23,425.12 L58.93,425.03 L59.77,424.93 L60.71,424.82 L61.71,424.69 L62.73,424.54 L63.75,424.34 L64.73,424.11 L65.62,423.83 L66.4,423.5 L67.51,422.93 L68.51,421.72 L69.42,420.7 L70.27,419.72 L71.08,418.86 L71.9,418 L72.87,416.76 L73.79,416.12 L74.67,415.11 L75.51,414.85 L76.3,413.6 L77.2,412.89 L78.02,411.43 L78.81,410.08 L79.6,409.2 L80.43,408.37 L81.27,406.52 L82.07,405.44 L82.8,404.9 L83.95,405.08 L85,406.5 L85.74,406.07 L86.5,405.52 L87.4,405.4 L88.26,405.91 L89.23,406.49 L90.21,407.74 L91.1,408.7 L92.01,409.49 L92.81,410.97 L93.8,412.5 L94.55,413 L95.38,414.13 L96.28,414.73 L97.22,415.61 L98.2,416.9 L99.03,417.48 L99.87,418.18 L100.75,419.24 L101.67,419.94 L102.65,420.84 L103.7,421.3 L104.46,421.86 L105.27,422.34 L106.11,422.9 L106.99,422.9 L107.88,423.38 L108.76,423.74 L109.64,424.07 L110.49,424.36 L111.3,424.6 L112.22,424.81 L113.17,424.95 L114.14,425.05 L115.07,425.11 L115.95,425.14 L116.74,425.16 L117.4,425.17 L117.9,425.2 L140.3,425.2 Z" fill="rgba(165,255,70,0.50)" stroke="none"/>
<line x1="21.8" y1="425.2" x2="140.3" y2="425.2" stroke="#98f03c" stroke-width="0.9" stroke-opacity="0.45"/>
<path d="M57.7,425.2 L58.23,425.12 L58.93,425.03 L59.77,424.93 L60.71,424.82 L61.71,424.69 L62.73,424.54 L63.75,424.34 L64.73,424.11 L65.62,423.83 L66.4,423.5 L67.51,422.93 L68.51,421.72 L69.42,420.7 L70.27,419.72 L71.08,418.86 L71.9,418 L72.87,416.76 L73.79,416.12 L74.67,415.11 L75.51,414.85 L76.3,413.6 L77.2,412.89 L78.02,411.43 L78.81,410.08 L79.6,409.2 L80.43,408.37 L81.27,406.52 L82.07,405.44 L82.8,404.9 L83.95,405.08 L85,406.5 L85.74,406.07 L86.5,405.52 L87.4,405.4 L88.26,405.91 L89.23,406.49 L90.21,407.74 L91.1,408.7 L92.01,409.49 L92.81,410.97 L93.8,412.5 L94.55,413 L95.38,414.13 L96.28,414.73 L97.22,415.61 L98.2,416.9 L99.03,417.48 L99.87,418.18 L100.75,419.24 L101.67,419.94 L102.65,420.84 L103.7,421.3 L104.46,421.86 L105.27,422.34 L106.11,422.9 L106.99,422.9 L107.88,423.38 L108.76,423.74 L109.64,424.07 L110.49,424.36 L111.3,424.6 L112.22,424.81 L113.17,424.95 L114.14,425.05 L115.07,425.11 L115.95,425.14 L116.74,425.16 L117.4,425.17 L117.9,425.2" fill="none" stroke="#98f03c" stroke-width="0.95" stroke-linejoin="round"/>
<path d="M21.8,442.4 L59.9,442.4 L60.41,442.24 L61.09,442.05 L61.91,441.83 L62.81,441.56 L63.75,441.25 L64.69,440.87 L65.59,440.43 L66.4,439.9 L67.39,438.92 L68.35,438.49 L69.28,436.69 L70.19,436 L71.06,434.69 L71.9,433.3 L72.87,431.26 L73.79,430.1 L74.67,428.28 L75.51,426.28 L76.3,424.6 L77.22,423.17 L78.06,421.84 L78.84,420.02 L79.6,419.1 L80.55,417.51 L81.44,416 L82.3,414.7 L83.15,413.67 L83.98,412.53 L84.8,412 L85.57,413.32 L86.34,415.01 L87.2,416.9 L87.94,418.57 L88.73,419.77 L89.58,421.18 L90.5,422.4 L91.33,423.28 L92.23,424.22 L93.17,425.41 L94.07,426.67 L94.9,427.8 L95.78,428.62 L96.55,430.31 L97.32,431.13 L98.2,432.2 L98.99,433.3 L99.83,434.35 L100.72,435.45 L101.64,436.3 L102.6,437.2 L103.42,437.43 L104.24,438.69 L105.09,439.2 L105.99,439.49 L106.96,439.99 L108,440.4 L108.8,440.69 L109.7,440.96 L110.68,441.23 L111.69,441.48 L112.68,441.71 L113.62,441.93 L114.46,442.11 L115.17,442.27 L115.7,442.4 L140.3,442.4 Z" fill="rgba(80,255,228,0.50)" stroke="none"/>
<line x1="21.8" y1="442.4" x2="140.3" y2="442.4" stroke="#62eedc" stroke-width="0.9" stroke-opacity="0.45"/>
<path d="M59.9,442.4 L60.41,442.24 L61.09,442.05 L61.91,441.83 L62.81,441.56 L63.75,441.25 L64.69,440.87 L65.59,440.43 L66.4,439.9 L67.39,438.92 L68.35,438.49 L69.28,436.69 L70.19,436 L71.06,434.69 L71.9,433.3 L72.87,431.26 L73.79,430.1 L74.67,428.28 L75.51,426.28 L76.3,424.6 L77.22,423.17 L78.06,421.84 L78.84,420.02 L79.6,419.1 L80.55,417.51 L81.44,416 L82.3,414.7 L83.15,413.67 L83.98,412.53 L84.8,412 L85.57,413.32 L86.34,415.01 L87.2,416.9 L87.94,418.57 L88.73,419.77 L89.58,421.18 L90.5,422.4 L91.33,423.28 L92.23,424.22 L93.17,425.41 L94.07,426.67 L94.9,427.8 L95.78,428.62 L96.55,430.31 L97.32,431.13 L98.2,432.2 L98.99,433.3 L99.83,434.35 L100.72,435.45 L101.64,436.3 L102.6,437.2 L103.42,437.43 L104.24,438.69 L105.09,439.2 L105.99,439.49 L106.96,439.99 L108,440.4 L108.8,440.69 L109.7,440.96 L110.68,441.23 L111.69,441.48 L112.68,441.71 L113.62,441.93 L114.46,442.11 L115.17,442.27 L115.7,442.4" fill="none" stroke="#62eedc" stroke-width="0.95" stroke-linejoin="round"/>
<path d="M21.8,459.3 L63.1,459.3 L63.62,459.2 L64.31,459.07 L65.14,458.92 L66.06,458.75 L67.02,458.55 L67.97,458.33 L68.88,458.08 L69.7,457.8 L70.68,457.37 L71.61,457 L72.52,455.95 L73.41,455.94 L74.3,454.95 L75.2,454.6 L76.13,453.71 L77.08,453.33 L78.03,453.19 L78.96,452.2 L79.85,452.09 L80.7,451.3 L81.65,450.92 L82.55,449.67 L83.41,448.72 L84.22,448.02 L85,447.4 L85.9,447.03 L86.71,446.79 L87.5,446.36 L88.3,445.8 L89.15,445.16 L90.02,443.76 L90.85,442.91 L91.6,442.5 L92.67,441.61 L93.8,441.4 L94.64,441.25 L95.59,440.48 L96.61,440.4 L97.6,440.3 L98.56,440.21 L99.52,440.82 L100.49,441.68 L101.5,442.5 L102.34,443.05 L103.21,443.44 L104.09,443.81 L104.96,443.94 L105.8,444.7 L106.81,445.66 L107.78,446.73 L108.74,447.92 L109.7,449.1 L110.64,449.88 L111.57,451.64 L112.51,452.15 L113.5,453.5 L114.34,454.81 L115.22,455.73 L116.11,455.88 L117.01,457.09 L117.9,457.8 L118.85,458.3 L119.87,458.67 L120.86,458.94 L121.7,459.14 L122.3,459.3 L140.3,459.3 Z" fill="rgba(85,140,55,0.50)" stroke="none"/>
<line x1="21.8" y1="459.3" x2="140.3" y2="459.3" stroke="#5b8f3f" stroke-width="0.9" stroke-opacity="0.45"/>
<path d="M63.1,459.3 L63.62,459.2 L64.31,459.07 L65.14,458.92 L66.06,458.75 L67.02,458.55 L67.97,458.33 L68.88,458.08 L69.7,457.8 L70.68,457.37 L71.61,457 L72.52,455.95 L73.41,455.94 L74.3,454.95 L75.2,454.6 L76.13,453.71 L77.08,453.33 L78.03,453.19 L78.96,452.2 L79.85,452.09 L80.7,451.3 L81.65,450.92 L82.55,449.67 L83.41,448.72 L84.22,448.02 L85,447.4 L85.9,447.03 L86.71,446.79 L87.5,446.36 L88.3,445.8 L89.15,445.16 L90.02,443.76 L90.85,442.91 L91.6,442.5 L92.67,441.61 L93.8,441.4 L94.64,441.25 L95.59,440.48 L96.61,440.4 L97.6,440.3 L98.56,440.21 L99.52,440.82 L100.49,441.68 L101.5,442.5 L102.34,443.05 L103.21,443.44 L104.09,443.81 L104.96,443.94 L105.8,444.7 L106.81,445.66 L107.78,446.73 L108.74,447.92 L109.7,449.1 L110.64,449.88 L111.57,451.64 L112.51,452.15 L113.5,453.5 L114.34,454.81 L115.22,455.73 L116.11,455.88 L117.01,457.09 L117.9,457.8 L118.85,458.3 L119.87,458.67 L120.86,458.94 L121.7,459.14 L122.3,459.3" fill="none" stroke="#5b8f3f" stroke-width="0.95" stroke-linejoin="round"/>
<path d="M21.8,476.2 L64.2,476.2 L64.8,475.92 L65.63,475.56 L66.61,475.11 L67.66,474.58 L68.72,474.21 L69.7,473.2 L70.64,472.7 L71.6,471.22 L72.56,469.93 L73.49,468.69 L74.38,468.12 L75.2,466.6 L76.29,464.64 L77.27,463.19 L78.16,461.15 L79,460 L79.95,458.53 L80.79,457.71 L81.8,456.2 L82.56,455.16 L83.41,455.01 L84.3,454.04 L85.21,453.74 L86.1,452.9 L87,452.63 L87.93,451.84 L88.86,452.11 L89.73,451.65 L90.5,451.8 L91.52,452.32 L92.36,453.77 L93.2,455.7 L94.07,457.05 L94.94,458.42 L96,460 L96.78,460.88 L97.65,461.89 L98.57,463.23 L99.5,464.34 L100.4,465.5 L101.25,466.65 L102.07,466.72 L102.9,468.07 L103.76,468.85 L104.7,469.3 L105.53,469.64 L106.4,470.98 L107.31,471.48 L108.24,472.3 L109.21,472.42 L110.2,473.2 L111.02,473.53 L111.93,473.99 L112.88,474.52 L113.84,474.94 L114.76,475.33 L115.59,475.68 L116.28,475.97 L116.8,476.2 L140.3,476.2 Z" fill="rgba(205,160,160,0.40)" stroke="none"/>
<line x1="21.8" y1="476.2" x2="140.3" y2="476.2" stroke="#d3a9a9" stroke-width="0.9" stroke-opacity="0.45"/>
<path d="M64.2,476.2 L64.8,475.92 L65.63,475.56 L66.61,475.11 L67.66,474.58 L68.72,474.21 L69.7,473.2 L70.64,472.7 L71.6,471.22 L72.56,469.93 L73.49,468.69 L74.38,468.12 L75.2,466.6 L76.29,464.64 L77.27,463.19 L78.16,461.15 L79,460 L79.95,458.53 L80.79,457.71 L81.8,456.2 L82.56,455.16 L83.41,455.01 L84.3,454.04 L85.21,453.74 L86.1,452.9 L87,452.63 L87.93,451.84 L88.86,452.11 L89.73,451.65 L90.5,451.8 L91.52,452.32 L92.36,453.77 L93.2,455.7 L94.07,457.05 L94.94,458.42 L96,460 L96.78,460.88 L97.65,461.89 L98.57,463.23 L99.5,464.34 L100.4,465.5 L101.25,466.65 L102.07,466.72 L102.9,468.07 L103.76,468.85 L104.7,469.3 L105.53,469.64 L106.4,470.98 L107.31,471.48 L108.24,472.3 L109.21,472.42 L110.2,473.2 L111.02,473.53 L111.93,473.99 L112.88,474.52 L113.84,474.94 L114.76,475.33 L115.59,475.68 L116.28,475.97 L116.8,476.2" fill="none" stroke="#d3a9a9" stroke-width="0.95" stroke-linejoin="round"/>
<line x1="94" y1="357" x2="94" y2="476.2" stroke="#2a2a2a" stroke-width="1.3" stroke-dasharray="2.3,1.05"/>
<path d="M140.3,476.2 L140.3,354.5 L21.8,354.5" fill="none" stroke="#b9b9b9" stroke-width="1.1"/>
<line x1="21.6" y1="354" x2="21.6" y2="476.7" stroke="#c0c0c0" stroke-width="1.8" />
<line x1="21.3" y1="476.2" x2="140.8" y2="476.2" stroke="#444" stroke-width="1.0" />
<line x1="26.04" y1="476.2" x2="26.04" y2="478" stroke="#555" stroke-width="0.8" />
<line x1="29.23" y1="476.2" x2="29.23" y2="478" stroke="#555" stroke-width="0.8" />
<line x1="31.99" y1="476.2" x2="31.99" y2="478" stroke="#555" stroke-width="0.8" />
<line x1="34.42" y1="476.2" x2="34.42" y2="478" stroke="#555" stroke-width="0.8" />
<line x1="36.6" y1="476.2" x2="36.6" y2="479.4" stroke="#222" stroke-width="1.0" />
<line x1="50.93" y1="476.2" x2="50.93" y2="478" stroke="#555" stroke-width="0.8" />
<line x1="59.31" y1="476.2" x2="59.31" y2="478" stroke="#555" stroke-width="0.8" />
<line x1="65.26" y1="476.2" x2="65.26" y2="478" stroke="#555" stroke-width="0.8" />
<line x1="69.87" y1="476.2" x2="69.87" y2="478" stroke="#555" stroke-width="0.8" />
<line x1="73.64" y1="476.2" x2="73.64" y2="478" stroke="#555" stroke-width="0.8" />
<line x1="76.83" y1="476.2" x2="76.83" y2="478" stroke="#555" stroke-width="0.8" />
<line x1="79.59" y1="476.2" x2="79.59" y2="478" stroke="#555" stroke-width="0.8" />
<line x1="82.02" y1="476.2" x2="82.02" y2="478" stroke="#555" stroke-width="0.8" />
<line x1="84.2" y1="476.2" x2="84.2" y2="479.4" stroke="#222" stroke-width="1.0" />
<line x1="98.53" y1="476.2" x2="98.53" y2="478" stroke="#555" stroke-width="0.8" />
<line x1="106.91" y1="476.2" x2="106.91" y2="478" stroke="#555" stroke-width="0.8" />
<line x1="112.86" y1="476.2" x2="112.86" y2="478" stroke="#555" stroke-width="0.8" />
<line x1="117.47" y1="476.2" x2="117.47" y2="478" stroke="#555" stroke-width="0.8" />
<line x1="121.24" y1="476.2" x2="121.24" y2="478" stroke="#555" stroke-width="0.8" />
<line x1="124.43" y1="476.2" x2="124.43" y2="478" stroke="#555" stroke-width="0.8" />
<line x1="127.19" y1="476.2" x2="127.19" y2="478" stroke="#555" stroke-width="0.8" />
<line x1="129.62" y1="476.2" x2="129.62" y2="478" stroke="#555" stroke-width="0.8" />
<line x1="131.8" y1="476.2" x2="131.8" y2="479.4" stroke="#222" stroke-width="1.0" />
<text x="37" y="490.2" font-size="6.0" text-anchor="middle" fill="#3a3a3a" >10</text>
<text x="39.5" y="486.4" font-size="4.6" text-anchor="start" fill="#3a3a3a" >3</text>
<text x="84.6" y="490.2" font-size="6.0" text-anchor="middle" fill="#3a3a3a" >10</text>
<text x="87.1" y="486.4" font-size="4.6" text-anchor="start" fill="#3a3a3a" >4</text>
<text x="132.2" y="490.2" font-size="6.0" text-anchor="middle" fill="#3a3a3a" >10</text>
<text x="134.7" y="486.4" font-size="4.6" text-anchor="start" fill="#3a3a3a" >5</text>
<text x="0" y="0" transform="translate(89,500.7) scale(1,1.06)" font-size="10.7" text-anchor="middle" fill="#1c1c1c" stroke="#1c1c1c" stroke-width="0.22" >Lipid ROS</text>
<text x="0" y="0" font-size="10.7" text-anchor="middle" fill="#1c1c1c" stroke="#1c1c1c" stroke-width="0.22" transform="translate(17.9,419.4) rotate(-90) scale(1,1.06)">counts</text>
<text x="0" y="0" transform="translate(146.9,387.6) scale(1,1.06)" font-size="10.7" text-anchor="start" fill="#1c1c1c" stroke="#1c1c1c" stroke-width="0.22" >con-sh+Vehicle</text>
<text x="0" y="0" transform="translate(146.9,405.9) scale(1,1.06)" font-size="10.7" text-anchor="start" fill="#1c1c1c" stroke="#1c1c1c" stroke-width="0.22" >ERα-sh#30+Vehicle</text>
<text x="0" y="0" transform="translate(146.9,423.9) scale(1,1.06)" font-size="10.7" text-anchor="start" fill="#1c1c1c" stroke="#1c1c1c" stroke-width="0.22" >ERα-sh#98+Vehicle</text>
<text x="0" y="0" transform="translate(146.9,438.9) scale(1,1.06)" font-size="10.7" text-anchor="start" fill="#1c1c1c" stroke="#1c1c1c" stroke-width="0.22" >con-sh+Erastin</text>
<text x="0" y="0" transform="translate(146.9,456.1) scale(1,1.06)" font-size="10.7" text-anchor="start" fill="#1c1c1c" stroke="#1c1c1c" stroke-width="0.22" >ERα-sh#30+Erastin</text>
<text x="0" y="0" transform="translate(146.9,472.6) scale(1,1.06)" font-size="10.7" text-anchor="start" fill="#1c1c1c" stroke="#1c1c1c" stroke-width="0.22" >ERα-sh#98+Erastin</text>
<path d="M21.6,550.4 L58.5,550.4 L59.02,550.17 L59.74,549.87 L60.59,549.52 L61.52,549.11 L62.47,548.66 L63.38,548.57 L64.2,547.6 L65.23,546.81 L66.23,545.65 L67.2,544.64 L68.12,543.39 L69,542.4 L70.04,540.45 L71.03,538.8 L71.94,537.68 L72.8,535.7 L73.82,533.25 L74.73,531.53 L75.6,529.1 L76.41,527.09 L77.19,525.5 L78,524.3 L78.92,522.95 L79.88,521.53 L80.8,521.3 L81.63,521.8 L82.41,523.57 L83.2,524.3 L84.4,525.24 L85.6,525.8 L86.4,527.43 L87.21,529.06 L88,531 L89.15,535.12 L90.3,538.6 L91.04,541.07 L91.79,542.62 L92.7,544.3 L93.51,545.69 L94.39,546.26 L95.38,547.84 L96.5,548.5 L97.26,548.91 L98.16,549.27 L99.11,549.57 L100.06,549.84 L100.93,550.06 L101.67,550.25 L102.2,550.4 L138.8,550.4 Z" fill="rgba(232,165,90,0.52)" stroke="none"/>
<line x1="21.6" y1="550.4" x2="138.8" y2="550.4" stroke="#eca257" stroke-width="0.9" stroke-opacity="0.45"/>
<path d="M58.5,550.4 L59.02,550.17 L59.74,549.87 L60.59,549.52 L61.52,549.11 L62.47,548.66 L63.38,548.57 L64.2,547.6 L65.23,546.81 L66.23,545.65 L67.2,544.64 L68.12,543.39 L69,542.4 L70.04,540.45 L71.03,538.8 L71.94,537.68 L72.8,535.7 L73.82,533.25 L74.73,531.53 L75.6,529.1 L76.41,527.09 L77.19,525.5 L78,524.3 L78.92,522.95 L79.88,521.53 L80.8,521.3 L81.63,521.8 L82.41,523.57 L83.2,524.3 L84.4,525.24 L85.6,525.8 L86.4,527.43 L87.21,529.06 L88,531 L89.15,535.12 L90.3,538.6 L91.04,541.07 L91.79,542.62 L92.7,544.3 L93.51,545.69 L94.39,546.26 L95.38,547.84 L96.5,548.5 L97.26,548.91 L98.16,549.27 L99.11,549.57 L100.06,549.84 L100.93,550.06 L101.67,550.25 L102.2,550.4" fill="none" stroke="#eca257" stroke-width="0.95" stroke-linejoin="round"/>
<path d="M21.6,566.6 L59.5,566.6 L60.02,566.4 L60.74,566.16 L61.6,565.87 L62.53,565.52 L63.48,565.13 L64.39,564.69 L65.2,564.2 L66.23,563.37 L67.22,562.7 L68.17,561.61 L69.07,560.27 L69.9,559.4 L70.84,557.64 L71.69,556.9 L72.47,554.78 L73.2,553.8 L74.43,551.86 L75.6,550 L76.57,548.09 L77.59,546.1 L78.5,544.7 L79.51,543.53 L80.4,542.8 L81.34,543.98 L82.3,544.3 L83.34,542.79 L84.4,541.9 L85.43,543.23 L86.5,545.2 L87.26,546.6 L88.05,548.54 L88.9,550 L89.8,550.96 L90.76,551.59 L91.8,552.8 L92.67,553.37 L93.59,554.34 L94.55,555.9 L95.5,556.6 L96.42,557.74 L97.33,558.74 L98.28,560.54 L99.3,561.3 L100.18,562.5 L101.1,562.78 L102.07,563.21 L103.07,563.88 L104.1,564.7 L104.92,565.07 L105.83,565.41 L106.78,565.72 L107.71,566 L108.56,566.24 L109.28,566.44 L109.8,566.6 L138.8,566.6 Z" fill="rgba(234,82,92,0.49)" stroke="none"/>
<line x1="21.6" y1="566.6" x2="138.8" y2="566.6" stroke="#f05f6c" stroke-width="0.9" stroke-opacity="0.45"/>
<path d="M59.5,566.6 L60.02,566.4 L60.74,566.16 L61.6,565.87 L62.53,565.52 L63.48,565.13 L64.39,564.69 L65.2,564.2 L66.23,563.37 L67.22,562.7 L68.17,561.61 L69.07,560.27 L69.9,559.4 L70.84,557.64 L71.69,556.9 L72.47,554.78 L73.2,553.8 L74.43,551.86 L75.6,550 L76.57,548.09 L77.59,546.1 L78.5,544.7 L79.51,543.53 L80.4,542.8 L81.34,543.98 L82.3,544.3 L83.34,542.79 L84.4,541.9 L85.43,543.23 L86.5,545.2 L87.26,546.6 L88.05,548.54 L88.9,550 L89.8,550.96 L90.76,551.59 L91.8,552.8 L92.67,553.37 L93.59,554.34 L94.55,555.9 L95.5,556.6 L96.42,557.74 L97.33,558.74 L98.28,560.54 L99.3,561.3 L100.18,562.5 L101.1,562.78 L102.07,563.21 L103.07,563.88 L104.1,564.7 L104.92,565.07 L105.83,565.41 L106.78,565.72 L107.71,566 L108.56,566.24 L109.28,566.44 L109.8,566.6" fill="none" stroke="#f05f6c" stroke-width="0.95" stroke-linejoin="round"/>
<path d="M21.6,583.2 L59.5,583.2 L60.03,582.96 L60.77,582.63 L61.64,582.25 L62.59,581.82 L63.54,581.35 L64.44,580.53 L65.2,580.4 L66.3,579.42 L67.25,578.31 L68.13,577.45 L69,576.6 L69.88,575.17 L70.74,574.09 L71.55,572.99 L72.3,571.4 L73.19,570.09 L73.97,568.39 L74.7,567.1 L75.68,565.1 L76.6,563.3 L77.55,561.27 L78.5,559.5 L79.44,558.61 L80.4,558.1 L81.46,556.56 L82.5,555.7 L83.36,556.2 L84.2,557.6 L85.14,556.86 L86.1,556.5 L87.05,557.47 L88,558.5 L88.92,560.86 L89.9,564.2 L91.02,566.67 L92.2,569 L93.31,571.46 L94.6,573.7 L95.43,575.23 L96.36,575.95 L97.35,577.21 L98.4,578.5 L99.28,579.08 L100.21,579.93 L101.17,580.64 L102.14,581.29 L103.1,581.8 L103.95,582.16 L104.87,582.46 L105.79,582.71 L106.65,582.91 L107.38,583.07 L107.9,583.2 L138.8,583.2 Z" fill="rgba(150,250,95,0.50)" stroke="none"/>
<line x1="21.6" y1="583.2" x2="138.8" y2="583.2" stroke="#88f046" stroke-width="0.9" stroke-opacity="0.45"/>
<path d="M59.5,583.2 L60.03,582.96 L60.77,582.63 L61.64,582.25 L62.59,581.82 L63.54,581.35 L64.44,580.53 L65.2,580.4 L66.3,579.42 L67.25,578.31 L68.13,577.45 L69,576.6 L69.88,575.17 L70.74,574.09 L71.55,572.99 L72.3,571.4 L73.19,570.09 L73.97,568.39 L74.7,567.1 L75.68,565.1 L76.6,563.3 L77.55,561.27 L78.5,559.5 L79.44,558.61 L80.4,558.1 L81.46,556.56 L82.5,555.7 L83.36,556.2 L84.2,557.6 L85.14,556.86 L86.1,556.5 L87.05,557.47 L88,558.5 L88.92,560.86 L89.9,564.2 L91.02,566.67 L92.2,569 L93.31,571.46 L94.6,573.7 L95.43,575.23 L96.36,575.95 L97.35,577.21 L98.4,578.5 L99.28,579.08 L100.21,579.93 L101.17,580.64 L102.14,581.29 L103.1,581.8 L103.95,582.16 L104.87,582.46 L105.79,582.71 L106.65,582.91 L107.38,583.07 L107.9,583.2" fill="none" stroke="#88f046" stroke-width="0.95" stroke-linejoin="round"/>
<path d="M21.6,599.3 L57.6,599.3 L58.13,599.1 L58.85,598.84 L59.71,598.54 L60.66,598.19 L61.64,597.81 L62.59,597.4 L63.46,597.34 L64.2,596.5 L65.35,595.77 L66.27,594.64 L67.12,592.69 L68,591.8 L68.97,590.05 L69.96,589.19 L70.91,587.88 L71.8,586.1 L72.87,584.09 L73.84,582.2 L74.7,580.4 L75.66,578.04 L76.6,577 L77.48,576.16 L78.46,576.04 L79.4,575.1 L80.62,574.12 L81.8,573.2 L82.59,574.06 L83.37,575.25 L84.2,576.1 L85.1,577.13 L86.04,578.42 L87,580.4 L87.96,582.17 L88.94,584.8 L89.9,587 L90.8,589.19 L91.7,591.34 L92.7,592.7 L93.56,594.02 L94.48,594.97 L95.46,595.96 L96.5,596.5 L97.37,596.96 L98.27,597.4 L99.2,597.73 L100.18,598.02 L101.2,598.3 L102.01,598.49 L102.92,598.67 L103.87,598.84 L104.8,598.98 L105.66,599.11 L106.38,599.22 L106.9,599.3 L138.8,599.3 Z" fill="rgba(70,242,248,0.50)" stroke="none"/>
<line x1="21.6" y1="599.3" x2="138.8" y2="599.3" stroke="#52e6f6" stroke-width="0.9" stroke-opacity="0.45"/>
<path d="M57.6,599.3 L58.13,599.1 L58.85,598.84 L59.71,598.54 L60.66,598.19 L61.64,597.81 L62.59,597.4 L63.46,597.34 L64.2,596.5 L65.35,595.77 L66.27,594.64 L67.12,592.69 L68,591.8 L68.97,590.05 L69.96,589.19 L70.91,587.88 L71.8,586.1 L72.87,584.09 L73.84,582.2 L74.7,580.4 L75.66,578.04 L76.6,577 L77.48,576.16 L78.46,576.04 L79.4,575.1 L80.62,574.12 L81.8,573.2 L82.59,574.06 L83.37,575.25 L84.2,576.1 L85.1,577.13 L86.04,578.42 L87,580.4 L87.96,582.17 L88.94,584.8 L89.9,587 L90.8,589.19 L91.7,591.34 L92.7,592.7 L93.56,594.02 L94.48,594.97 L95.46,595.96 L96.5,596.5 L97.37,596.96 L98.27,597.4 L99.2,597.73 L100.18,598.02 L101.2,598.3 L102.01,598.49 L102.92,598.67 L103.87,598.84 L104.8,598.98 L105.66,599.11 L106.38,599.22 L106.9,599.3" fill="none" stroke="#52e6f6" stroke-width="0.95" stroke-linejoin="round"/>
<path d="M21.6,616.1 L61.4,616.1 L62.06,616.05 L63.01,615.99 L64.1,615.81 L65.2,615.4 L66.1,614.84 L67.06,614.1 L68.04,613.31 L69,612.02 L69.9,611.6 L70.93,610.9 L71.91,609.51 L72.83,609.14 L73.7,607.8 L74.74,606.53 L75.67,604.79 L76.6,603.5 L77.57,601.77 L78.54,600.45 L79.4,599.2 L80.41,596.73 L81.3,594.5 L82.22,594.28 L83.2,594 L84.34,592.39 L85.6,591.5 L86.55,590.84 L87.55,591.21 L88.4,591.5 L89.18,592.95 L89.9,594.5 L90.99,595.19 L92.2,596.4 L93.37,598.84 L94.6,602.1 L95.47,603.82 L96.38,604.85 L97.4,606.8 L98.26,607.86 L99.18,609.25 L100.16,610.89 L101.2,611.6 L102.11,612.51 L103.1,613.45 L104.1,613.78 L105.09,614.4 L106,614.9 L107.11,615.38 L108.2,615.71 L109.14,615.93 L109.8,616.1 L138.8,616.1 Z" fill="rgba(85,140,55,0.50)" stroke="none"/>
<line x1="21.6" y1="616.1" x2="138.8" y2="616.1" stroke="#5b8f3f" stroke-width="0.9" stroke-opacity="0.45"/>
<path d="M61.4,616.1 L62.06,616.05 L63.01,615.99 L64.1,615.81 L65.2,615.4 L66.1,614.84 L67.06,614.1 L68.04,613.31 L69,612.02 L69.9,611.6 L70.93,610.9 L71.91,609.51 L72.83,609.14 L73.7,607.8 L74.74,606.53 L75.67,604.79 L76.6,603.5 L77.57,601.77 L78.54,600.45 L79.4,599.2 L80.41,596.73 L81.3,594.5 L82.22,594.28 L83.2,594 L84.34,592.39 L85.6,591.5 L86.55,590.84 L87.55,591.21 L88.4,591.5 L89.18,592.95 L89.9,594.5 L90.99,595.19 L92.2,596.4 L93.37,598.84 L94.6,602.1 L95.47,603.82 L96.38,604.85 L97.4,606.8 L98.26,607.86 L99.18,609.25 L100.16,610.89 L101.2,611.6 L102.11,612.51 L103.1,613.45 L104.1,613.78 L105.09,614.4 L106,614.9 L107.11,615.38 L108.2,615.71 L109.14,615.93 L109.8,616.1" fill="none" stroke="#5b8f3f" stroke-width="0.95" stroke-linejoin="round"/>
<path d="M21.6,632.6 L64.2,632.6 L64.87,632.08 L65.82,631.36 L66.92,630.29 L68.03,629.39 L69,628.7 L70.04,627.95 L71.03,626.52 L71.94,624.95 L72.8,623.9 L73.82,621.89 L74.73,620.69 L75.6,619.2 L76.43,617.98 L77.21,616.5 L78,615.4 L78.77,614.11 L79.53,613.46 L80.4,612.5 L81.18,612.41 L82.05,611.49 L82.92,611.04 L83.7,611.1 L84.99,609.98 L86.1,609.5 L87.02,609.93 L88,611.1 L88.86,612.17 L89.83,612.87 L90.8,614.4 L91.76,616.14 L92.74,617.75 L93.7,619.2 L94.64,620.88 L95.57,622.3 L96.5,623.9 L97.43,625.1 L98.36,625.04 L99.3,625.8 L100.19,626.92 L101.1,627.4 L102.2,628.7 L103.1,629.24 L104.18,630.59 L105.27,631.27 L106.23,632.05 L106.9,632.6 L138.8,632.6 Z" fill="rgba(205,160,160,0.40)" stroke="none"/>
<line x1="21.6" y1="632.6" x2="138.8" y2="632.6" stroke="#d3a9a9" stroke-width="0.9" stroke-opacity="0.45"/>
<path d="M64.2,632.6 L64.87,632.08 L65.82,631.36 L66.92,630.29 L68.03,629.39 L69,628.7 L70.04,627.95 L71.03,626.52 L71.94,624.95 L72.8,623.9 L73.82,621.89 L74.73,620.69 L75.6,619.2 L76.43,617.98 L77.21,616.5 L78,615.4 L78.77,614.11 L79.53,613.46 L80.4,612.5 L81.18,612.41 L82.05,611.49 L82.92,611.04 L83.7,611.1 L84.99,609.98 L86.1,609.5 L87.02,609.93 L88,611.1 L88.86,612.17 L89.83,612.87 L90.8,614.4 L91.76,616.14 L92.74,617.75 L93.7,619.2 L94.64,620.88 L95.57,622.3 L96.5,623.9 L97.43,625.1 L98.36,625.04 L99.3,625.8 L100.19,626.92 L101.1,627.4 L102.2,628.7 L103.1,629.24 L104.18,630.59 L105.27,631.27 L106.23,632.05 L106.9,632.6" fill="none" stroke="#d3a9a9" stroke-width="0.95" stroke-linejoin="round"/>
<line x1="93.5" y1="515.8" x2="93.5" y2="632.6" stroke="#2a2a2a" stroke-width="1.3" stroke-dasharray="2.3,1.05"/>
<path d="M138.8,632.6 L138.8,515.3 L21.6,515.3" fill="none" stroke="#666" stroke-width="1.1"/>
<line x1="21.6" y1="514.8" x2="21.6" y2="633.1" stroke="#666" stroke-width="1.1" />
<line x1="21.1" y1="632.6" x2="139.3" y2="632.6" stroke="#444" stroke-width="1.0" />
<line x1="25.17" y1="632.6" x2="25.17" y2="634.4" stroke="#555" stroke-width="0.8" />
<line x1="29.37" y1="632.6" x2="29.37" y2="634.4" stroke="#555" stroke-width="0.8" />
<line x1="32.79" y1="632.6" x2="32.79" y2="634.4" stroke="#555" stroke-width="0.8" />
<line x1="35.69" y1="632.6" x2="35.69" y2="634.4" stroke="#555" stroke-width="0.8" />
<line x1="38.2" y1="632.6" x2="38.2" y2="634.4" stroke="#555" stroke-width="0.8" />
<line x1="40.42" y1="632.6" x2="40.42" y2="634.4" stroke="#555" stroke-width="0.8" />
<line x1="42.4" y1="632.6" x2="42.4" y2="635.8" stroke="#222" stroke-width="1.0" />
<line x1="55.43" y1="632.6" x2="55.43" y2="634.4" stroke="#555" stroke-width="0.8" />
<line x1="63.06" y1="632.6" x2="63.06" y2="634.4" stroke="#555" stroke-width="0.8" />
<line x1="68.47" y1="632.6" x2="68.47" y2="634.4" stroke="#555" stroke-width="0.8" />
<line x1="72.67" y1="632.6" x2="72.67" y2="634.4" stroke="#555" stroke-width="0.8" />
<line x1="76.09" y1="632.6" x2="76.09" y2="634.4" stroke="#555" stroke-width="0.8" />
<line x1="78.99" y1="632.6" x2="78.99" y2="634.4" stroke="#555" stroke-width="0.8" />
<line x1="81.5" y1="632.6" x2="81.5" y2="634.4" stroke="#555" stroke-width="0.8" />
<line x1="83.72" y1="632.6" x2="83.72" y2="634.4" stroke="#555" stroke-width="0.8" />
<line x1="85.7" y1="632.6" x2="85.7" y2="635.8" stroke="#222" stroke-width="1.0" />
<line x1="98.73" y1="632.6" x2="98.73" y2="634.4" stroke="#555" stroke-width="0.8" />
<line x1="106.36" y1="632.6" x2="106.36" y2="634.4" stroke="#555" stroke-width="0.8" />
<line x1="111.77" y1="632.6" x2="111.77" y2="634.4" stroke="#555" stroke-width="0.8" />
<line x1="115.97" y1="632.6" x2="115.97" y2="634.4" stroke="#555" stroke-width="0.8" />
<line x1="119.39" y1="632.6" x2="119.39" y2="634.4" stroke="#555" stroke-width="0.8" />
<line x1="122.29" y1="632.6" x2="122.29" y2="634.4" stroke="#555" stroke-width="0.8" />
<line x1="124.8" y1="632.6" x2="124.8" y2="634.4" stroke="#555" stroke-width="0.8" />
<line x1="127.02" y1="632.6" x2="127.02" y2="634.4" stroke="#555" stroke-width="0.8" />
<line x1="129" y1="632.6" x2="129" y2="635.8" stroke="#222" stroke-width="1.0" />
<text x="42.8" y="646.6" font-size="6.0" text-anchor="middle" fill="#3a3a3a" >10</text>
<text x="45.3" y="642.8" font-size="4.6" text-anchor="start" fill="#3a3a3a" >3</text>
<text x="86.1" y="646.6" font-size="6.0" text-anchor="middle" fill="#3a3a3a" >10</text>
<text x="88.6" y="642.8" font-size="4.6" text-anchor="start" fill="#3a3a3a" >4</text>
<text x="129.4" y="646.6" font-size="6.0" text-anchor="middle" fill="#3a3a3a" >10</text>
<text x="131.9" y="642.8" font-size="4.6" text-anchor="start" fill="#3a3a3a" >5</text>
<text x="0" y="0" transform="translate(87,657.9) scale(1,1.06)" font-size="10.7" text-anchor="middle" fill="#1c1c1c" stroke="#1c1c1c" stroke-width="0.22" >Lipid ROS</text>
<text x="0" y="0" font-size="10.7" text-anchor="middle" fill="#1c1c1c" stroke="#1c1c1c" stroke-width="0.22" transform="translate(17.9,575.6) rotate(-90) scale(1,1.06)">counts</text>
<text x="0" y="0" transform="translate(145,541.9) scale(1,1.06)" font-size="10.7" text-anchor="start" fill="#1c1c1c" stroke="#1c1c1c" stroke-width="0.22" >con-sh+Vehicle</text>
<text x="0" y="0" transform="translate(145,560.3) scale(1,1.06)" font-size="10.7" text-anchor="start" fill="#1c1c1c" stroke="#1c1c1c" stroke-width="0.22" >ERα-sh#30+Vehicle</text>
<text x="0" y="0" transform="translate(145,578) scale(1,1.06)" font-size="10.7" text-anchor="start" fill="#1c1c1c" stroke="#1c1c1c" stroke-width="0.22" >ERα-sh#98+Vehicle</text>
<text x="0" y="0" transform="translate(145,593.1) scale(1,1.06)" font-size="10.7" text-anchor="start" fill="#1c1c1c" stroke="#1c1c1c" stroke-width="0.22" >con-sh+Erastin</text>
<text x="0" y="0" transform="translate(145,610.3) scale(1,1.06)" font-size="10.7" text-anchor="start" fill="#1c1c1c" stroke="#1c1c1c" stroke-width="0.22" >ERα-sh#30+Erastin</text>
<text x="0" y="0" transform="translate(145,626.2) scale(1,1.06)" font-size="10.7" text-anchor="start" fill="#1c1c1c" stroke="#1c1c1c" stroke-width="0.22" >ERα-sh#98+Erastin</text>
<line x1="307.25" y1="125.83" x2="307.25" y2="122.35" stroke="#111111" stroke-width="1.1" />
<line x1="305.05" y1="122.35" x2="309.45" y2="122.35" stroke="#111111" stroke-width="1.15" />
<rect x="303.4" y="125.83" width="7.7" height="23.57" fill="#fff" stroke="none"/>
<path d="M303.4,149.4 L303.4,125.83 L311.1,125.83 L311.1,149.4" fill="none" stroke="#111111" stroke-width="1.8" stroke-linejoin="round"/>
<line x1="320.95" y1="64.78" x2="320.95" y2="61.3" stroke="#f03c3c" stroke-width="1.1" />
<line x1="318.75" y1="61.3" x2="323.15" y2="61.3" stroke="#f03c3c" stroke-width="1.15" />
<rect x="317.1" y="64.78" width="7.7" height="84.62" fill="#fff" stroke="none"/>
<path d="M317.1,149.4 L317.1,64.78 L324.8,64.78 L324.8,149.4" fill="none" stroke="#f03c3c" stroke-width="1.8" stroke-linejoin="round"/>
<line x1="334.75" y1="89.89" x2="334.75" y2="86.8" stroke="#1f1ff0" stroke-width="1.1" />
<line x1="332.55" y1="86.8" x2="336.95" y2="86.8" stroke="#1f1ff0" stroke-width="1.15" />
<rect x="330.9" y="89.89" width="7.7" height="59.51" fill="#fff" stroke="none"/>
<path d="M330.9,149.4 L330.9,89.89 L338.6,89.89 L338.6,149.4" fill="none" stroke="#1f1ff0" stroke-width="1.8" stroke-linejoin="round"/>
<line x1="357.85" y1="124.28" x2="357.85" y2="121.19" stroke="#111111" stroke-width="1.1" />
<line x1="355.65" y1="121.19" x2="360.05" y2="121.19" stroke="#111111" stroke-width="1.15" />
<rect x="354" y="124.28" width="7.7" height="25.12" fill="#fff" stroke="none"/>
<path d="M354,149.4 L354,124.28 L361.7,124.28 L361.7,149.4" fill="none" stroke="#111111" stroke-width="1.8" stroke-linejoin="round"/>
<line x1="371.55" y1="108.83" x2="371.55" y2="108.06" stroke="#f03c3c" stroke-width="1.1" />
<line x1="369.35" y1="108.06" x2="373.75" y2="108.06" stroke="#f03c3c" stroke-width="1.15" />
<rect x="367.7" y="108.83" width="7.7" height="40.57" fill="#fff" stroke="none"/>
<path d="M367.7,149.4 L367.7,108.83 L375.4,108.83 L375.4,149.4" fill="none" stroke="#f03c3c" stroke-width="1.8" stroke-linejoin="round"/>
<line x1="385.35" y1="112.31" x2="385.35" y2="110.37" stroke="#1f1ff0" stroke-width="1.1" />
<line x1="383.15" y1="110.37" x2="387.55" y2="110.37" stroke="#1f1ff0" stroke-width="1.15" />
<rect x="381.5" y="112.31" width="7.7" height="37.09" fill="#fff" stroke="none"/>
<path d="M381.5,149.4 L381.5,112.31 L389.2,112.31 L389.2,149.4" fill="none" stroke="#1f1ff0" stroke-width="1.8" stroke-linejoin="round"/>
<line x1="298" y1="52.3" x2="298" y2="150" stroke="#111" stroke-width="1.2" />
<line x1="293.7" y1="149.4" x2="395" y2="149.4" stroke="#111" stroke-width="1.2" />
<line x1="293.7" y1="149.4" x2="298" y2="149.4" stroke="#111" stroke-width="1.1" />
<text x="0" y="0" transform="translate(292.6,153) scale(1,1.06)" font-size="10.7" text-anchor="end" fill="#222" stroke="#222" stroke-width="0.22" >0</text>
<line x1="293.7" y1="130.08" x2="298" y2="130.08" stroke="#111" stroke-width="1.1" />
<text x="0" y="0" transform="translate(292.6,133.68) scale(1,1.06)" font-size="10.7" text-anchor="end" fill="#222" stroke="#222" stroke-width="0.22" >5</text>
<line x1="293.7" y1="110.76" x2="298" y2="110.76" stroke="#111" stroke-width="1.1" />
<text x="0" y="0" transform="translate(292.6,114.36) scale(1,1.06)" font-size="10.7" text-anchor="end" fill="#222" stroke="#222" stroke-width="0.22" >10</text>
<line x1="293.7" y1="91.44" x2="298" y2="91.44" stroke="#111" stroke-width="1.1" />
<text x="0" y="0" transform="translate(292.6,95.04) scale(1,1.06)" font-size="10.7" text-anchor="end" fill="#222" stroke="#222" stroke-width="0.22" >15</text>
<line x1="293.7" y1="72.12" x2="298" y2="72.12" stroke="#111" stroke-width="1.1" />
<text x="0" y="0" transform="translate(292.6,75.72) scale(1,1.06)" font-size="10.7" text-anchor="end" fill="#222" stroke="#222" stroke-width="0.22" >20</text>
<line x1="293.7" y1="52.8" x2="298" y2="52.8" stroke="#111" stroke-width="1.1" />
<text x="0" y="0" transform="translate(292.6,56.4) scale(1,1.06)" font-size="10.7" text-anchor="end" fill="#222" stroke="#222" stroke-width="0.22" >25</text>
<line x1="320.95" y1="149.4" x2="320.95" y2="152.7" stroke="#111" stroke-width="1.1" />
<text x="0" y="0" transform="translate(320.95,163.8) scale(1,1.06)" font-size="10.7" text-anchor="middle" fill="#1c1c1c" stroke="#1c1c1c" stroke-width="0.22" >Vehicle</text>
<line x1="371.55" y1="149.4" x2="371.55" y2="152.7" stroke="#111" stroke-width="1.1" />
<text x="0" y="0" transform="translate(371.55,163.8) scale(1,1.06)" font-size="10.7" text-anchor="middle" fill="#1c1c1c" stroke="#1c1c1c" stroke-width="0.22" >Ferrostatin-1</text>
<text x="0" y="0" transform="translate(346.5,28.2) scale(1,1.06)" font-size="10.7" text-anchor="middle" fill="#1c1c1c" stroke="#1c1c1c" stroke-width="0.22" >MCF-7</text>
<text x="0" y="0" font-size="10.7" text-anchor="middle" fill="#1c1c1c" stroke="#1c1c1c" stroke-width="0.22" transform="translate(275.6,98) rotate(-90) scale(1,1.06)">Lipid ROS positive (%)</text>
<rect x="395.1" y="32.2" width="8.3" height="5.2" fill="#fff" stroke="#111111" stroke-width="2.2"/>
<text x="0" y="0" transform="translate(410.4,38.2) scale(1,1.06)" font-size="10.9" text-anchor="start" fill="#222" stroke="#222" stroke-width="0.22" >con-sh</text>
<rect x="395.1" y="42.4" width="8.3" height="5.2" fill="#fff" stroke="#f03c3c" stroke-width="2.2"/>
<text x="0" y="0" transform="translate(410.4,48.9) scale(1,1.06)" font-size="10.9" text-anchor="start" fill="#222" stroke="#222" stroke-width="0.22" >ERα-sh#30</text>
<rect x="395.1" y="53.4" width="8.3" height="5.2" fill="#fff" stroke="#1f1ff0" stroke-width="2.2"/>
<text x="0" y="0" transform="translate(410.4,59.7) scale(1,1.06)" font-size="10.9" text-anchor="start" fill="#222" stroke="#222" stroke-width="0.22" >ERα-sh#98</text>
<line x1="322.2" y1="45.3" x2="371.6" y2="45.3" stroke="#1a1a1a" stroke-width="1.0" />
<line x1="322.2" y1="43.1" x2="322.2" y2="47.5" stroke="#1a1a1a" stroke-width="1.1" />
<line x1="371.6" y1="43.1" x2="371.6" y2="47.5" stroke="#1a1a1a" stroke-width="1.1" />
<polygon points="341.2,35.7 341.85,37.17 343.45,37 342.5,38.3 343.45,39.6 341.85,39.43 341.2,40.9 340.55,39.43 338.95,39.6 339.9,38.3 338.95,37 340.55,37.17" fill="#111"/>
<polygon points="346.7,35.7 347.35,37.17 348.95,37 348,38.3 348.95,39.6 347.35,39.43 346.7,40.9 346.05,39.43 344.45,39.6 345.4,38.3 344.45,37 346.05,37.17" fill="#111"/>
<polygon points="352.2,35.7 352.85,37.17 354.45,37 353.5,38.3 354.45,39.6 352.85,39.43 352.2,40.9 351.55,39.43 349.95,39.6 350.9,38.3 349.95,37 351.55,37.17" fill="#111"/>
<line x1="334.2" y1="60.7" x2="385.6" y2="60.7" stroke="#1a1a1a" stroke-width="1.0" />
<line x1="334.2" y1="58.5" x2="334.2" y2="62.9" stroke="#1a1a1a" stroke-width="1.1" />
<line x1="385.6" y1="58.5" x2="385.6" y2="62.9" stroke="#1a1a1a" stroke-width="1.1" />
<polygon points="354.2,51.3 354.85,52.77 356.45,52.6 355.5,53.9 356.45,55.2 354.85,55.03 354.2,56.5 353.55,55.03 351.95,55.2 352.9,53.9 351.95,52.6 353.55,52.77" fill="#111"/>
<polygon points="359.7,51.3 360.35,52.77 361.95,52.6 361,53.9 361.95,55.2 360.35,55.03 359.7,56.5 359.05,55.03 357.45,55.2 358.4,53.9 357.45,52.6 359.05,52.77" fill="#111"/>
<polygon points="365.2,51.3 365.85,52.77 367.45,52.6 366.5,53.9 367.45,55.2 365.85,55.03 365.2,56.5 364.55,55.03 362.95,55.2 363.9,53.9 362.95,52.6 364.55,52.77" fill="#111"/>
<text x="0" y="0" font-size="8.8" font-family="Liberation Sans, sans-serif" font-style="italic" text-anchor="middle" fill="#555" transform="translate(322,57.1) scale(0.84,1)">###</text>
<text x="0" y="0" font-size="8.8" font-family="Liberation Sans, sans-serif" font-style="italic" text-anchor="middle" fill="#555" transform="translate(335.1,84.2) scale(0.84,1)">###</text>
<line x1="304.75" y1="282.02" x2="304.75" y2="280.75" stroke="#111111" stroke-width="1.1" />
<line x1="302.55" y1="280.75" x2="306.95" y2="280.75" stroke="#111111" stroke-width="1.15" />
<rect x="300.9" y="282.02" width="7.7" height="19.98" fill="#fff" stroke="none"/>
<path d="M300.9,302 L300.9,282.02 L308.6,282.02 L308.6,302" fill="none" stroke="#111111" stroke-width="1.8" stroke-linejoin="round"/>
<line x1="318.45" y1="232.95" x2="318.45" y2="227.42" stroke="#f03c3c" stroke-width="1.1" />
<line x1="316.25" y1="227.42" x2="320.65" y2="227.42" stroke="#f03c3c" stroke-width="1.15" />
<rect x="314.6" y="232.95" width="7.7" height="69.05" fill="#fff" stroke="none"/>
<path d="M314.6,302 L314.6,232.95 L322.3,232.95 L322.3,302" fill="none" stroke="#f03c3c" stroke-width="1.8" stroke-linejoin="round"/>
<line x1="332.25" y1="249.95" x2="332.25" y2="245.59" stroke="#1f1ff0" stroke-width="1.1" />
<line x1="330.05" y1="245.59" x2="334.45" y2="245.59" stroke="#1f1ff0" stroke-width="1.15" />
<rect x="328.4" y="249.95" width="7.7" height="52.05" fill="#fff" stroke="none"/>
<path d="M328.4,302 L328.4,249.95 L336.1,249.95 L336.1,302" fill="none" stroke="#1f1ff0" stroke-width="1.8" stroke-linejoin="round"/>
<line x1="355.35" y1="284.73" x2="355.35" y2="282.29" stroke="#111111" stroke-width="1.1" />
<line x1="353.15" y1="282.29" x2="357.55" y2="282.29" stroke="#111111" stroke-width="1.15" />
<rect x="351.5" y="284.73" width="7.7" height="17.27" fill="#fff" stroke="none"/>
<path d="M351.5,302 L351.5,284.73 L359.2,284.73 L359.2,302" fill="none" stroke="#111111" stroke-width="1.8" stroke-linejoin="round"/>
<line x1="369.05" y1="259.22" x2="369.05" y2="257.95" stroke="#f03c3c" stroke-width="1.1" />
<line x1="366.85" y1="257.95" x2="371.25" y2="257.95" stroke="#f03c3c" stroke-width="1.15" />
<rect x="365.2" y="259.22" width="7.7" height="42.78" fill="#fff" stroke="none"/>
<path d="M365.2,302 L365.2,259.22 L372.9,259.22 L372.9,302" fill="none" stroke="#f03c3c" stroke-width="1.8" stroke-linejoin="round"/>
<line x1="382.85" y1="265.79" x2="382.85" y2="262.97" stroke="#1f1ff0" stroke-width="1.1" />
<line x1="380.65" y1="262.97" x2="385.05" y2="262.97" stroke="#1f1ff0" stroke-width="1.15" />
<rect x="379" y="265.79" width="7.7" height="36.21" fill="#fff" stroke="none"/>
<path d="M379,302 L379,265.79 L386.7,265.79 L386.7,302" fill="none" stroke="#1f1ff0" stroke-width="1.8" stroke-linejoin="round"/>
<line x1="295.5" y1="204.9" x2="295.5" y2="302.6" stroke="#111" stroke-width="1.2" />
<line x1="291.2" y1="302" x2="392.5" y2="302" stroke="#111" stroke-width="1.2" />
<line x1="291.2" y1="302" x2="295.5" y2="302" stroke="#111" stroke-width="1.1" />
<text x="0" y="0" transform="translate(290.1,305.6) scale(1,1.06)" font-size="10.7" text-anchor="end" fill="#222" stroke="#222" stroke-width="0.22" >0</text>
<line x1="291.2" y1="282.68" x2="295.5" y2="282.68" stroke="#111" stroke-width="1.1" />
<text x="0" y="0" transform="translate(290.1,286.28) scale(1,1.06)" font-size="10.7" text-anchor="end" fill="#222" stroke="#222" stroke-width="0.22" >5</text>
<line x1="291.2" y1="263.36" x2="295.5" y2="263.36" stroke="#111" stroke-width="1.1" />
<text x="0" y="0" transform="translate(290.1,266.96) scale(1,1.06)" font-size="10.7" text-anchor="end" fill="#222" stroke="#222" stroke-width="0.22" >10</text>
<line x1="291.2" y1="244.04" x2="295.5" y2="244.04" stroke="#111" stroke-width="1.1" />
<text x="0" y="0" transform="translate(290.1,247.64) scale(1,1.06)" font-size="10.7" text-anchor="end" fill="#222" stroke="#222" stroke-width="0.22" >15</text>
<line x1="291.2" y1="224.72" x2="295.5" y2="224.72" stroke="#111" stroke-width="1.1" />
<text x="0" y="0" transform="translate(290.1,228.32) scale(1,1.06)" font-size="10.7" text-anchor="end" fill="#222" stroke="#222" stroke-width="0.22" >20</text>
<line x1="291.2" y1="205.4" x2="295.5" y2="205.4" stroke="#111" stroke-width="1.1" />
<text x="0" y="0" transform="translate(290.1,209) scale(1,1.06)" font-size="10.7" text-anchor="end" fill="#222" stroke="#222" stroke-width="0.22" >25</text>
<line x1="318.45" y1="302" x2="318.45" y2="305.3" stroke="#111" stroke-width="1.1" />
<text x="0" y="0" transform="translate(318.45,316.4) scale(1,1.06)" font-size="10.7" text-anchor="middle" fill="#1c1c1c" stroke="#1c1c1c" stroke-width="0.22" >Vehicle</text>
<line x1="369.05" y1="302" x2="369.05" y2="305.3" stroke="#111" stroke-width="1.1" />
<text x="0" y="0" transform="translate(369.05,316.4) scale(1,1.06)" font-size="10.7" text-anchor="middle" fill="#1c1c1c" stroke="#1c1c1c" stroke-width="0.22" >Ferrostatin-1</text>
<text x="0" y="0" transform="translate(344.5,189.4) scale(1,1.06)" font-size="10.7" text-anchor="middle" fill="#1c1c1c" stroke="#1c1c1c" stroke-width="0.22" >ZR-75-1</text>
<text x="0" y="0" font-size="10.7" text-anchor="middle" fill="#1c1c1c" stroke="#1c1c1c" stroke-width="0.22" transform="translate(273.9,250.7) rotate(-90) scale(1,1.06)">Lipid ROS positive (%)</text>
<rect x="395.1" y="206.4" width="8.6" height="5.2" fill="#fff" stroke="#111111" stroke-width="2.2"/>
<text x="0" y="0" transform="translate(410.2,212.7) scale(1,1.06)" font-size="10.9" text-anchor="start" fill="#222" stroke="#222" stroke-width="0.22" >con-sh</text>
<rect x="395.1" y="216.9" width="8.6" height="5.2" fill="#fff" stroke="#f03c3c" stroke-width="2.2"/>
<text x="0" y="0" transform="translate(410.2,223.5) scale(1,1.06)" font-size="10.9" text-anchor="start" fill="#222" stroke="#222" stroke-width="0.22" >ERα-sh#30</text>
<rect x="395.1" y="227.6" width="8.6" height="5.2" fill="#fff" stroke="#1f1ff0" stroke-width="2.2"/>
<text x="0" y="0" transform="translate(410.2,233.9) scale(1,1.06)" font-size="10.9" text-anchor="start" fill="#222" stroke="#222" stroke-width="0.22" >ERα-sh#98</text>
<line x1="318.5" y1="212.1" x2="369.3" y2="212.1" stroke="#a8a8a8" stroke-width="1.6" />
<line x1="318.5" y1="209.9" x2="318.5" y2="214.3" stroke="#1a1a1a" stroke-width="1.1" />
<line x1="369.3" y1="209.9" x2="369.3" y2="214.3" stroke="#1a1a1a" stroke-width="1.1" />
<polygon points="338.5,202.8 339.15,204.27 340.75,204.1 339.8,205.4 340.75,206.7 339.15,206.53 338.5,208 337.85,206.53 336.25,206.7 337.2,205.4 336.25,204.1 337.85,204.27" fill="#111"/>
<polygon points="344,202.8 344.65,204.27 346.25,204.1 345.3,205.4 346.25,206.7 344.65,206.53 344,208 343.35,206.53 341.75,206.7 342.7,205.4 341.75,204.1 343.35,204.27" fill="#111"/>
<polygon points="349.5,202.8 350.15,204.27 351.75,204.1 350.8,205.4 351.75,206.7 350.15,206.53 349.5,208 348.85,206.53 347.25,206.7 348.2,205.4 347.25,204.1 348.85,204.27" fill="#111"/>
<line x1="332.3" y1="228.4" x2="382.9" y2="228.4" stroke="#1a1a1a" stroke-width="1.0" />
<line x1="332.3" y1="226.2" x2="332.3" y2="230.6" stroke="#1a1a1a" stroke-width="1.1" />
<line x1="382.9" y1="226.2" x2="382.9" y2="230.6" stroke="#1a1a1a" stroke-width="1.1" />
<polygon points="352.1,219.4 352.75,220.87 354.35,220.7 353.4,222 354.35,223.3 352.75,223.13 352.1,224.6 351.45,223.13 349.85,223.3 350.8,222 349.85,220.7 351.45,220.87" fill="#111"/>
<polygon points="357.6,219.4 358.25,220.87 359.85,220.7 358.9,222 359.85,223.3 358.25,223.13 357.6,224.6 356.95,223.13 355.35,223.3 356.3,222 355.35,220.7 356.95,220.87" fill="#111"/>
<polygon points="363.1,219.4 363.75,220.87 365.35,220.7 364.4,222 365.35,223.3 363.75,223.13 363.1,224.6 362.45,223.13 360.85,223.3 361.8,222 360.85,220.7 362.45,220.87" fill="#111"/>
<text x="318.7" y="224.7" font-size="8.2" text-anchor="middle" fill="#555" >###</text>
<text x="332.6" y="243.1" font-size="8.2" text-anchor="middle" fill="#555" >###</text>
<line x1="304.85" y1="465.33" x2="304.85" y2="464.25" stroke="#111111" stroke-width="1.1" />
<line x1="302.65" y1="464.25" x2="307.05" y2="464.25" stroke="#111111" stroke-width="1.15" />
<rect x="301" y="465.33" width="7.7" height="8.97" fill="#fff" stroke="none"/>
<path d="M301,474.3 L301,465.33 L308.7,465.33 L308.7,474.3" fill="none" stroke="#111111" stroke-width="1.8" stroke-linejoin="round"/>
<line x1="318.55" y1="423.02" x2="318.55" y2="419.62" stroke="#f03c3c" stroke-width="1.1" />
<line x1="316.35" y1="419.62" x2="320.75" y2="419.62" stroke="#f03c3c" stroke-width="1.15" />
<rect x="314.7" y="423.02" width="7.7" height="51.28" fill="#fff" stroke="none"/>
<path d="M314.7,474.3 L314.7,423.02 L322.4,423.02 L322.4,474.3" fill="none" stroke="#f03c3c" stroke-width="1.8" stroke-linejoin="round"/>
<line x1="332.35" y1="454.32" x2="332.35" y2="452.28" stroke="#1f1ff0" stroke-width="1.1" />
<line x1="330.15" y1="452.28" x2="334.55" y2="452.28" stroke="#1f1ff0" stroke-width="1.15" />
<rect x="328.5" y="454.32" width="7.7" height="19.98" fill="#fff" stroke="none"/>
<path d="M328.5,474.3 L328.5,454.32 L336.2,454.32 L336.2,474.3" fill="none" stroke="#1f1ff0" stroke-width="1.8" stroke-linejoin="round"/>
<line x1="355.45" y1="457.61" x2="355.45" y2="456.72" stroke="#111111" stroke-width="1.1" />
<line x1="353.25" y1="456.72" x2="357.65" y2="456.72" stroke="#111111" stroke-width="1.15" />
<rect x="351.6" y="457.61" width="7.7" height="16.69" fill="#fff" stroke="none"/>
<path d="M351.6,474.3 L351.6,457.61 L359.3,457.61 L359.3,474.3" fill="none" stroke="#111111" stroke-width="1.8" stroke-linejoin="round"/>
<line x1="369.15" y1="399.84" x2="369.15" y2="395.28" stroke="#f03c3c" stroke-width="1.1" />
<line x1="366.95" y1="395.28" x2="371.35" y2="395.28" stroke="#f03c3c" stroke-width="1.15" />
<rect x="365.3" y="399.84" width="7.7" height="74.46" fill="#fff" stroke="none"/>
<path d="M365.3,474.3 L365.3,399.84 L373,399.84 L373,474.3" fill="none" stroke="#f03c3c" stroke-width="1.8" stroke-linejoin="round"/>
<line x1="382.95" y1="442.73" x2="382.95" y2="440.68" stroke="#1f1ff0" stroke-width="1.1" />
<line x1="380.75" y1="440.68" x2="385.15" y2="440.68" stroke="#1f1ff0" stroke-width="1.15" />
<rect x="379.1" y="442.73" width="7.7" height="31.57" fill="#fff" stroke="none"/>
<path d="M379.1,474.3 L379.1,442.73 L386.8,442.73 L386.8,474.3" fill="none" stroke="#1f1ff0" stroke-width="1.8" stroke-linejoin="round"/>
<line x1="295.6" y1="377.2" x2="295.6" y2="474.9" stroke="#111" stroke-width="1.2" />
<line x1="291.3" y1="474.3" x2="392.6" y2="474.3" stroke="#111" stroke-width="1.2" />
<line x1="291.3" y1="474.3" x2="295.6" y2="474.3" stroke="#111" stroke-width="1.1" />
<text x="0" y="0" transform="translate(290.2,477.9) scale(1,1.06)" font-size="10.7" text-anchor="end" fill="#222" stroke="#222" stroke-width="0.22" >0</text>
<line x1="291.3" y1="454.98" x2="295.6" y2="454.98" stroke="#111" stroke-width="1.1" />
<text x="0" y="0" transform="translate(290.2,458.58) scale(1,1.06)" font-size="10.7" text-anchor="end" fill="#222" stroke="#222" stroke-width="0.22" >10</text>
<line x1="291.3" y1="435.66" x2="295.6" y2="435.66" stroke="#111" stroke-width="1.1" />
<text x="0" y="0" transform="translate(290.2,439.26) scale(1,1.06)" font-size="10.7" text-anchor="end" fill="#222" stroke="#222" stroke-width="0.22" >20</text>
<line x1="291.3" y1="416.34" x2="295.6" y2="416.34" stroke="#111" stroke-width="1.1" />
<text x="0" y="0" transform="translate(290.2,419.94) scale(1,1.06)" font-size="10.7" text-anchor="end" fill="#222" stroke="#222" stroke-width="0.22" >30</text>
<line x1="291.3" y1="397.02" x2="295.6" y2="397.02" stroke="#111" stroke-width="1.1" />
<text x="0" y="0" transform="translate(290.2,400.62) scale(1,1.06)" font-size="10.7" text-anchor="end" fill="#222" stroke="#222" stroke-width="0.22" >40</text>
<line x1="291.3" y1="377.7" x2="295.6" y2="377.7" stroke="#111" stroke-width="1.1" />
<text x="0" y="0" transform="translate(290.2,381.3) scale(1,1.06)" font-size="10.7" text-anchor="end" fill="#222" stroke="#222" stroke-width="0.22" >50</text>
<line x1="318.55" y1="474.3" x2="318.55" y2="477.6" stroke="#111" stroke-width="1.1" />
<text x="0" y="0" transform="translate(318.55,488.7) scale(1,1.06)" font-size="10.7" text-anchor="middle" fill="#1c1c1c" stroke="#1c1c1c" stroke-width="0.22" >Vehicle</text>
<line x1="369.15" y1="474.3" x2="369.15" y2="477.6" stroke="#111" stroke-width="1.1" />
<text x="0" y="0" transform="translate(369.15,488.7) scale(1,1.06)" font-size="10.7" text-anchor="middle" fill="#1c1c1c" stroke="#1c1c1c" stroke-width="0.22" >Erastin</text>
<text x="0" y="0" transform="translate(344,358.2) scale(1,1.06)" font-size="10.7" text-anchor="middle" fill="#1c1c1c" stroke="#1c1c1c" stroke-width="0.22" >MCF-7</text>
<text x="0" y="0" font-size="10.7" text-anchor="middle" fill="#1c1c1c" stroke="#1c1c1c" stroke-width="0.22" transform="translate(274,422.6) rotate(-90) scale(1,1.06)">Lipid ROS positive (%)</text>
<rect x="395.1" y="385.7" width="8.6" height="5.2" fill="#fff" stroke="#111111" stroke-width="2.2"/>
<text x="0" y="0" transform="translate(410.2,391.8) scale(1,1.06)" font-size="10.9" text-anchor="start" fill="#222" stroke="#222" stroke-width="0.22" >con-sh</text>
<rect x="395.1" y="396.4" width="8.6" height="5.2" fill="#fff" stroke="#f03c3c" stroke-width="2.2"/>
<text x="0" y="0" transform="translate(410.2,402.7) scale(1,1.06)" font-size="10.9" text-anchor="start" fill="#222" stroke="#222" stroke-width="0.22" >ERα-sh#30</text>
<rect x="395.1" y="407.2" width="8.6" height="5.2" fill="#fff" stroke="#1f1ff0" stroke-width="2.2"/>
<text x="0" y="0" transform="translate(410.2,413.2) scale(1,1.06)" font-size="10.9" text-anchor="start" fill="#222" stroke="#222" stroke-width="0.22" >ERα-sh#98</text>
<line x1="332.1" y1="375.4" x2="383" y2="375.4" stroke="#1a1a1a" stroke-width="1.0" />
<line x1="332.1" y1="373.2" x2="332.1" y2="377.6" stroke="#1a1a1a" stroke-width="1.1" />
<line x1="383" y1="373.2" x2="383" y2="377.6" stroke="#1a1a1a" stroke-width="1.1" />
<polygon points="351.8,366 352.45,367.47 354.05,367.3 353.1,368.6 354.05,369.9 352.45,369.73 351.8,371.2 351.15,369.73 349.55,369.9 350.5,368.6 349.55,367.3 351.15,367.47" fill="#111"/>
<polygon points="357.3,366 357.95,367.47 359.55,367.3 358.6,368.6 359.55,369.9 357.95,369.73 357.3,371.2 356.65,369.73 355.05,369.9 356,368.6 355.05,367.3 356.65,367.47" fill="#111"/>
<polygon points="362.8,366 363.45,367.47 365.05,367.3 364.1,368.6 365.05,369.9 363.45,369.73 362.8,371.2 362.15,369.73 360.55,369.9 361.5,368.6 360.55,367.3 362.15,367.47" fill="#111"/>
<line x1="317.8" y1="390.5" x2="368.4" y2="390.5" stroke="#1a1a1a" stroke-width="1.0" />
<line x1="317.8" y1="388.3" x2="317.8" y2="392.7" stroke="#1a1a1a" stroke-width="1.1" />
<line x1="368.4" y1="388.3" x2="368.4" y2="392.7" stroke="#1a1a1a" stroke-width="1.1" />
<polygon points="337.3,380.8 337.95,382.27 339.55,382.1 338.6,383.4 339.55,384.7 337.95,384.53 337.3,386 336.65,384.53 335.05,384.7 336,383.4 335.05,382.1 336.65,382.27" fill="#111"/>
<polygon points="342.8,380.8 343.45,382.27 345.05,382.1 344.1,383.4 345.05,384.7 343.45,384.53 342.8,386 342.15,384.53 340.55,384.7 341.5,383.4 340.55,382.1 342.15,382.27" fill="#111"/>
<polygon points="348.3,380.8 348.95,382.27 350.55,382.1 349.6,383.4 350.55,384.7 348.95,384.53 348.3,386 347.65,384.53 346.05,384.7 347,383.4 346.05,382.1 347.65,382.27" fill="#111"/>
<text x="321" y="415.3" font-size="8.2" text-anchor="middle" fill="#555" >###</text>
<text x="0" y="0" font-size="8.8" font-family="Liberation Sans, sans-serif" font-style="italic" text-anchor="middle" fill="#555" transform="translate(333.3,447.4) scale(0.84,1)">###</text>
<line x1="303.25" y1="621.47" x2="303.25" y2="620.32" stroke="#111111" stroke-width="1.1" />
<line x1="301.05" y1="620.32" x2="305.45" y2="620.32" stroke="#111111" stroke-width="1.15" />
<rect x="299.4" y="621.47" width="7.7" height="17.53" fill="#fff" stroke="none"/>
<path d="M299.4,639 L299.4,621.47 L307.1,621.47 L307.1,639" fill="none" stroke="#111111" stroke-width="1.8" stroke-linejoin="round"/>
<line x1="316.95" y1="587.66" x2="316.95" y2="583.29" stroke="#1f1ff0" stroke-width="1.1" />
<line x1="314.75" y1="583.29" x2="319.15" y2="583.29" stroke="#1f1ff0" stroke-width="1.15" />
<rect x="313.1" y="587.66" width="7.7" height="51.34" fill="#fff" stroke="none"/>
<path d="M313.1,639 L313.1,587.66 L320.8,587.66 L320.8,639" fill="none" stroke="#1f1ff0" stroke-width="1.8" stroke-linejoin="round"/>
<line x1="330.75" y1="597" x2="330.75" y2="596.17" stroke="#f03c3c" stroke-width="1.1" />
<line x1="328.55" y1="596.17" x2="332.95" y2="596.17" stroke="#f03c3c" stroke-width="1.15" />
<rect x="326.9" y="597" width="7.7" height="42" fill="#fff" stroke="none"/>
<path d="M326.9,639 L326.9,597 L334.6,597 L334.6,639" fill="none" stroke="#f03c3c" stroke-width="1.8" stroke-linejoin="round"/>
<line x1="353.85" y1="615.99" x2="353.85" y2="614.85" stroke="#111111" stroke-width="1.1" />
<line x1="351.65" y1="614.85" x2="356.05" y2="614.85" stroke="#111111" stroke-width="1.15" />
<rect x="350" y="615.99" width="7.7" height="23.01" fill="#fff" stroke="none"/>
<path d="M350,639 L350,615.99 L357.7,615.99 L357.7,639" fill="none" stroke="#111111" stroke-width="1.8" stroke-linejoin="round"/>
<line x1="367.55" y1="564.15" x2="367.55" y2="559.79" stroke="#1f1ff0" stroke-width="1.1" />
<line x1="365.35" y1="559.79" x2="369.75" y2="559.79" stroke="#1f1ff0" stroke-width="1.15" />
<rect x="363.7" y="564.15" width="7.7" height="74.85" fill="#fff" stroke="none"/>
<path d="M363.7,639 L363.7,564.15 L371.4,564.15 L371.4,639" fill="none" stroke="#1f1ff0" stroke-width="1.8" stroke-linejoin="round"/>
<line x1="381.35" y1="576.07" x2="381.35" y2="572.35" stroke="#f03c3c" stroke-width="1.1" />
<line x1="379.15" y1="572.35" x2="383.55" y2="572.35" stroke="#f03c3c" stroke-width="1.15" />
<rect x="377.5" y="576.07" width="7.7" height="62.93" fill="#fff" stroke="none"/>
<path d="M377.5,639 L377.5,576.07 L385.2,576.07 L385.2,639" fill="none" stroke="#f03c3c" stroke-width="1.8" stroke-linejoin="round"/>
<line x1="294" y1="541.9" x2="294" y2="639.6" stroke="#111" stroke-width="1.2" />
<line x1="289.7" y1="639" x2="391" y2="639" stroke="#111" stroke-width="1.2" />
<line x1="289.7" y1="639" x2="294" y2="639" stroke="#111" stroke-width="1.1" />
<text x="0" y="0" transform="translate(288.6,642.6) scale(1,1.06)" font-size="10.7" text-anchor="end" fill="#222" stroke="#222" stroke-width="0.22" >0</text>
<line x1="289.7" y1="606.8" x2="294" y2="606.8" stroke="#111" stroke-width="1.1" />
<text x="0" y="0" transform="translate(288.6,610.4) scale(1,1.06)" font-size="10.7" text-anchor="end" fill="#222" stroke="#222" stroke-width="0.22" >10</text>
<line x1="289.7" y1="574.6" x2="294" y2="574.6" stroke="#111" stroke-width="1.1" />
<text x="0" y="0" transform="translate(288.6,578.2) scale(1,1.06)" font-size="10.7" text-anchor="end" fill="#222" stroke="#222" stroke-width="0.22" >20</text>
<line x1="289.7" y1="542.4" x2="294" y2="542.4" stroke="#111" stroke-width="1.1" />
<text x="0" y="0" transform="translate(288.6,546) scale(1,1.06)" font-size="10.7" text-anchor="end" fill="#222" stroke="#222" stroke-width="0.22" >30</text>
<line x1="316.95" y1="639" x2="316.95" y2="642.3" stroke="#111" stroke-width="1.1" />
<text x="0" y="0" transform="translate(316.95,653.4) scale(1,1.06)" font-size="10.7" text-anchor="middle" fill="#1c1c1c" stroke="#1c1c1c" stroke-width="0.22" >Vehicle</text>
<line x1="367.55" y1="639" x2="367.55" y2="642.3" stroke="#111" stroke-width="1.1" />
<text x="0" y="0" transform="translate(367.55,653.4) scale(1,1.06)" font-size="10.7" text-anchor="middle" fill="#1c1c1c" stroke="#1c1c1c" stroke-width="0.22" >Erastin</text>
<text x="0" y="0" transform="translate(343,523.3) scale(1,1.06)" font-size="10.7" text-anchor="middle" fill="#1c1c1c" stroke="#1c1c1c" stroke-width="0.22" >ZR-75-1</text>
<text x="0" y="0" font-size="10.7" text-anchor="middle" fill="#1c1c1c" stroke="#1c1c1c" stroke-width="0.22" transform="translate(272.5,587.6) rotate(-90) scale(1,1.06)">Lipid ROS positive (%)</text>
<rect x="395.3" y="537.4" width="8.4" height="5.2" fill="#fff" stroke="#111111" stroke-width="2.2"/>
<text x="0" y="0" transform="translate(410.2,543.7) scale(1,1.06)" font-size="10.9" text-anchor="start" fill="#222" stroke="#222" stroke-width="0.22" >con-sh</text>
<rect x="395.3" y="548.6" width="8.4" height="5.2" fill="#fff" stroke="#f03c3c" stroke-width="2.2"/>
<text x="0" y="0" transform="translate(410.2,554.7) scale(1,1.06)" font-size="10.9" text-anchor="start" fill="#222" stroke="#222" stroke-width="0.22" >ERα-sh#30</text>
<rect x="395.3" y="559.6" width="8.4" height="5.2" fill="#fff" stroke="#1f1ff0" stroke-width="2.2"/>
<text x="0" y="0" transform="translate(410.2,565.7) scale(1,1.06)" font-size="10.9" text-anchor="start" fill="#222" stroke="#222" stroke-width="0.22" >ERα-sh#98</text>
<line x1="329.2" y1="540.5" x2="381.3" y2="540.5" stroke="#1a1a1a" stroke-width="1.0" />
<line x1="329.2" y1="538.3" x2="329.2" y2="542.7" stroke="#1a1a1a" stroke-width="1.1" />
<line x1="381.3" y1="538.3" x2="381.3" y2="542.7" stroke="#1a1a1a" stroke-width="1.1" />
<polygon points="349.7,531 350.35,532.47 351.95,532.3 351,533.6 351.95,534.9 350.35,534.73 349.7,536.2 349.05,534.73 347.45,534.9 348.4,533.6 347.45,532.3 349.05,532.47" fill="#111"/>
<polygon points="355.2,531 355.85,532.47 357.45,532.3 356.5,533.6 357.45,534.9 355.85,534.73 355.2,536.2 354.55,534.73 352.95,534.9 353.9,533.6 352.95,532.3 354.55,532.47" fill="#111"/>
<polygon points="360.7,531 361.35,532.47 362.95,532.3 362,533.6 362.95,534.9 361.35,534.73 360.7,536.2 360.05,534.73 358.45,534.9 359.4,533.6 358.45,532.3 360.05,532.47" fill="#111"/>
<line x1="316.7" y1="554.5" x2="366.5" y2="554.5" stroke="#1a1a1a" stroke-width="1.0" />
<line x1="316.7" y1="552.3" x2="316.7" y2="556.7" stroke="#1a1a1a" stroke-width="1.1" />
<line x1="366.5" y1="552.3" x2="366.5" y2="556.7" stroke="#1a1a1a" stroke-width="1.1" />
<polygon points="336.1,544.6 336.75,546.07 338.35,545.9 337.4,547.2 338.35,548.5 336.75,548.33 336.1,549.8 335.45,548.33 333.85,548.5 334.8,547.2 333.85,545.9 335.45,546.07" fill="#111"/>
<polygon points="341.6,544.6 342.25,546.07 343.85,545.9 342.9,547.2 343.85,548.5 342.25,548.33 341.6,549.8 340.95,548.33 339.35,548.5 340.3,547.2 339.35,545.9 340.95,546.07" fill="#111"/>
<polygon points="347.1,544.6 347.75,546.07 349.35,545.9 348.4,547.2 349.35,548.5 347.75,548.33 347.1,549.8 346.45,548.33 344.85,548.5 345.8,547.2 344.85,545.9 346.45,546.07" fill="#111"/>
<text x="316.3" y="578" font-size="8.2" text-anchor="middle" fill="#555" >###</text>
<text x="0" y="0" font-size="8.8" font-family="Liberation Sans, sans-serif" font-style="italic" text-anchor="middle" fill="#555" transform="translate(331,589.1) scale(0.84,1)">###</text>
<line x1="527.65" y1="71.12" x2="527.65" y2="64.18" stroke="#111111" stroke-width="1.1" />
<line x1="525.45" y1="64.18" x2="529.85" y2="64.18" stroke="#111111" stroke-width="1.15" />
<rect x="523.8" y="71.12" width="7.7" height="76.78" fill="#fff" stroke="none"/>
<path d="M523.8,147.9 L523.8,71.12 L531.5,71.12 L531.5,147.9" fill="none" stroke="#111111" stroke-width="1.8" stroke-linejoin="round"/>
<line x1="541.35" y1="102.23" x2="541.35" y2="97.02" stroke="#f03c3c" stroke-width="1.1" />
<line x1="539.15" y1="97.02" x2="543.55" y2="97.02" stroke="#f03c3c" stroke-width="1.15" />
<rect x="537.5" y="102.23" width="7.7" height="45.67" fill="#fff" stroke="none"/>
<path d="M537.5,147.9 L537.5,102.23 L545.2,102.23 L545.2,147.9" fill="none" stroke="#f03c3c" stroke-width="1.8" stroke-linejoin="round"/>
<line x1="555.15" y1="117.49" x2="555.15" y2="113.77" stroke="#1f1ff0" stroke-width="1.1" />
<line x1="552.95" y1="113.77" x2="557.35" y2="113.77" stroke="#1f1ff0" stroke-width="1.15" />
<rect x="551.3" y="117.49" width="7.7" height="30.41" fill="#fff" stroke="none"/>
<path d="M551.3,147.9 L551.3,117.49 L559,117.49 L559,147.9" fill="none" stroke="#1f1ff0" stroke-width="1.8" stroke-linejoin="round"/>
<line x1="578.25" y1="59.66" x2="578.25" y2="57.1" stroke="#111111" stroke-width="1.1" />
<line x1="576.05" y1="57.1" x2="580.45" y2="57.1" stroke="#111111" stroke-width="1.15" />
<rect x="574.4" y="59.66" width="7.7" height="88.24" fill="#fff" stroke="none"/>
<path d="M574.4,147.9 L574.4,59.66 L582.1,59.66 L582.1,147.9" fill="none" stroke="#111111" stroke-width="1.8" stroke-linejoin="round"/>
<line x1="591.95" y1="78.72" x2="591.95" y2="71.91" stroke="#f03c3c" stroke-width="1.1" />
<line x1="589.75" y1="71.91" x2="594.15" y2="71.91" stroke="#f03c3c" stroke-width="1.15" />
<rect x="588.1" y="78.72" width="7.7" height="69.18" fill="#fff" stroke="none"/>
<path d="M588.1,147.9 L588.1,78.72 L595.8,78.72 L595.8,147.9" fill="none" stroke="#f03c3c" stroke-width="1.8" stroke-linejoin="round"/>
<line x1="605.75" y1="84.64" x2="605.75" y2="79.64" stroke="#1f1ff0" stroke-width="1.1" />
<line x1="603.55" y1="79.64" x2="607.95" y2="79.64" stroke="#1f1ff0" stroke-width="1.15" />
<rect x="601.9" y="84.64" width="7.7" height="63.26" fill="#fff" stroke="none"/>
<path d="M601.9,147.9 L601.9,84.64 L609.6,84.64 L609.6,147.9" fill="none" stroke="#1f1ff0" stroke-width="1.8" stroke-linejoin="round"/>
<line x1="518.4" y1="50.8" x2="518.4" y2="148.5" stroke="#111" stroke-width="1.2" />
<line x1="514.1" y1="147.9" x2="615.4" y2="147.9" stroke="#111" stroke-width="1.2" />
<line x1="514.1" y1="147.9" x2="518.4" y2="147.9" stroke="#111" stroke-width="1.1" />
<text x="0" y="0" transform="translate(513,151.5) scale(1,1.06)" font-size="10.7" text-anchor="end" fill="#222" stroke="#222" stroke-width="0.22" >0.0</text>
<line x1="514.1" y1="115.7" x2="518.4" y2="115.7" stroke="#111" stroke-width="1.1" />
<text x="0" y="0" transform="translate(513,119.3) scale(1,1.06)" font-size="10.7" text-anchor="end" fill="#222" stroke="#222" stroke-width="0.22" >0.5</text>
<line x1="514.1" y1="83.5" x2="518.4" y2="83.5" stroke="#111" stroke-width="1.1" />
<text x="0" y="0" transform="translate(513,87.1) scale(1,1.06)" font-size="10.7" text-anchor="end" fill="#222" stroke="#222" stroke-width="0.22" >1.0</text>
<line x1="514.1" y1="51.3" x2="518.4" y2="51.3" stroke="#111" stroke-width="1.1" />
<text x="0" y="0" transform="translate(513,54.9) scale(1,1.06)" font-size="10.7" text-anchor="end" fill="#222" stroke="#222" stroke-width="0.22" >1.5</text>
<line x1="541.35" y1="147.9" x2="541.35" y2="151.2" stroke="#111" stroke-width="1.1" />
<text x="0" y="0" transform="translate(541.35,162.3) scale(1,1.06)" font-size="10.7" text-anchor="middle" fill="#1c1c1c" stroke="#1c1c1c" stroke-width="0.22" >Vehicle</text>
<line x1="591.95" y1="147.9" x2="591.95" y2="151.2" stroke="#111" stroke-width="1.1" />
<text x="0" y="0" transform="translate(591.95,162.3) scale(1,1.06)" font-size="10.7" text-anchor="middle" fill="#1c1c1c" stroke="#1c1c1c" stroke-width="0.22" >Ferrostatin-1</text>
<text x="0" y="0" transform="translate(566.6,24.1) scale(1,1.06)" font-size="10.7" text-anchor="middle" fill="#1c1c1c" stroke="#1c1c1c" stroke-width="0.22" >MCF-7</text>
<text x="0" y="0" font-size="10.7" text-anchor="middle" fill="#1c1c1c" stroke="#1c1c1c" stroke-width="0.22" transform="translate(494.5,98.2) rotate(-90) scale(1,1.06)">relative cell viability</text>
<rect x="619.4" y="32" width="8.3" height="5.2" fill="#fff" stroke="#111111" stroke-width="2.2"/>
<text x="0" y="0" transform="translate(634.9,38) scale(1,1.06)" font-size="10.9" text-anchor="start" fill="#222" stroke="#222" stroke-width="0.22" >con-sh</text>
<rect x="619.4" y="42.4" width="8.3" height="5.2" fill="#fff" stroke="#f03c3c" stroke-width="2.2"/>
<text x="0" y="0" transform="translate(634.9,49) scale(1,1.06)" font-size="10.9" text-anchor="start" fill="#222" stroke="#222" stroke-width="0.22" >ERα-sh#30</text>
<rect x="619.4" y="53.4" width="8.3" height="5.2" fill="#fff" stroke="#1f1ff0" stroke-width="2.2"/>
<text x="0" y="0" transform="translate(634.9,59.7) scale(1,1.06)" font-size="10.9" text-anchor="start" fill="#222" stroke="#222" stroke-width="0.22" >ERα-sh#98</text>
<line x1="541.5" y1="39" x2="591.8" y2="39" stroke="#8a8a8a" stroke-width="1.6" />
<line x1="541.5" y1="36.8" x2="541.5" y2="41.2" stroke="#1a1a1a" stroke-width="1.1" />
<line x1="591.8" y1="36.8" x2="591.8" y2="41.2" stroke="#1a1a1a" stroke-width="1.1" />
<polygon points="561,29.7 561.65,31.17 563.25,31 562.3,32.3 563.25,33.6 561.65,33.43 561,34.9 560.35,33.43 558.75,33.6 559.7,32.3 558.75,31 560.35,31.17" fill="#111"/>
<polygon points="566.5,29.7 567.15,31.17 568.75,31 567.8,32.3 568.75,33.6 567.15,33.43 566.5,34.9 565.85,33.43 564.25,33.6 565.2,32.3 564.25,31 565.85,31.17" fill="#111"/>
<polygon points="572,29.7 572.65,31.17 574.25,31 573.3,32.3 574.25,33.6 572.65,33.43 572,34.9 571.35,33.43 569.75,33.6 570.7,32.3 569.75,31 571.35,31.17" fill="#111"/>
<line x1="555.1" y1="52.8" x2="605.4" y2="52.8" stroke="#1a1a1a" stroke-width="1.0" />
<line x1="555.1" y1="50.6" x2="555.1" y2="55" stroke="#1a1a1a" stroke-width="1.1" />
<line x1="605.4" y1="50.6" x2="605.4" y2="55" stroke="#1a1a1a" stroke-width="1.1" />
<polygon points="574.8,43.4 575.45,44.87 577.05,44.7 576.1,46 577.05,47.3 575.45,47.13 574.8,48.6 574.15,47.13 572.55,47.3 573.5,46 572.55,44.7 574.15,44.87" fill="#111"/>
<polygon points="580.3,43.4 580.95,44.87 582.55,44.7 581.6,46 582.55,47.3 580.95,47.13 580.3,48.6 579.65,47.13 578.05,47.3 579,46 578.05,44.7 579.65,44.87" fill="#111"/>
<polygon points="585.8,43.4 586.45,44.87 588.05,44.7 587.1,46 588.05,47.3 586.45,47.13 585.8,48.6 585.15,47.13 583.55,47.3 584.5,46 583.55,44.7 585.15,44.87" fill="#111"/>
<line x1="527.45" y1="243.54" x2="527.45" y2="241.6" stroke="#111111" stroke-width="1.1" />
<line x1="525.25" y1="241.6" x2="529.65" y2="241.6" stroke="#111111" stroke-width="1.15" />
<rect x="523.6" y="243.54" width="7.7" height="63.26" fill="#fff" stroke="none"/>
<path d="M523.6,306.8 L523.6,243.54 L531.3,243.54 L531.3,306.8" fill="none" stroke="#111111" stroke-width="1.8" stroke-linejoin="round"/>
<line x1="541.15" y1="272.04" x2="541.15" y2="269.13" stroke="#f03c3c" stroke-width="1.1" />
<line x1="538.95" y1="269.13" x2="543.35" y2="269.13" stroke="#f03c3c" stroke-width="1.15" />
<rect x="537.3" y="272.04" width="7.7" height="34.76" fill="#fff" stroke="none"/>
<path d="M537.3,306.8 L537.3,272.04 L545,272.04 L545,306.8" fill="none" stroke="#f03c3c" stroke-width="1.8" stroke-linejoin="round"/>
<line x1="554.95" y1="279.29" x2="554.95" y2="277.82" stroke="#1f1ff0" stroke-width="1.1" />
<line x1="552.75" y1="277.82" x2="557.15" y2="277.82" stroke="#1f1ff0" stroke-width="1.15" />
<rect x="551.1" y="279.29" width="7.7" height="27.51" fill="#fff" stroke="none"/>
<path d="M551.1,306.8 L551.1,279.29 L558.8,279.29 L558.8,306.8" fill="none" stroke="#1f1ff0" stroke-width="1.8" stroke-linejoin="round"/>
<line x1="578.05" y1="238.71" x2="578.05" y2="236.77" stroke="#111111" stroke-width="1.1" />
<line x1="575.85" y1="236.77" x2="580.25" y2="236.77" stroke="#111111" stroke-width="1.15" />
<rect x="574.2" y="238.71" width="7.7" height="68.09" fill="#fff" stroke="none"/>
<path d="M574.2,306.8 L574.2,238.71 L581.9,238.71 L581.9,306.8" fill="none" stroke="#111111" stroke-width="1.8" stroke-linejoin="round"/>
<line x1="591.75" y1="248.86" x2="591.75" y2="247.87" stroke="#f03c3c" stroke-width="1.1" />
<line x1="589.55" y1="247.87" x2="593.95" y2="247.87" stroke="#f03c3c" stroke-width="1.15" />
<rect x="587.9" y="248.86" width="7.7" height="57.94" fill="#fff" stroke="none"/>
<path d="M587.9,306.8 L587.9,248.86 L595.6,248.86 L595.6,306.8" fill="none" stroke="#f03c3c" stroke-width="1.8" stroke-linejoin="round"/>
<line x1="605.55" y1="255.62" x2="605.55" y2="254.64" stroke="#1f1ff0" stroke-width="1.1" />
<line x1="603.35" y1="254.64" x2="607.75" y2="254.64" stroke="#1f1ff0" stroke-width="1.15" />
<rect x="601.7" y="255.62" width="7.7" height="51.18" fill="#fff" stroke="none"/>
<path d="M601.7,306.8 L601.7,255.62 L609.4,255.62 L609.4,306.8" fill="none" stroke="#1f1ff0" stroke-width="1.8" stroke-linejoin="round"/>
<line x1="518.2" y1="209.7" x2="518.2" y2="307.4" stroke="#111" stroke-width="1.2" />
<line x1="513.9" y1="306.8" x2="615.2" y2="306.8" stroke="#111" stroke-width="1.2" />
<line x1="513.9" y1="306.8" x2="518.2" y2="306.8" stroke="#111" stroke-width="1.1" />
<text x="0" y="0" transform="translate(512.8,310.4) scale(1,1.06)" font-size="10.7" text-anchor="end" fill="#222" stroke="#222" stroke-width="0.22" >0.0</text>
<line x1="513.9" y1="282.65" x2="518.2" y2="282.65" stroke="#111" stroke-width="1.1" />
<text x="0" y="0" transform="translate(512.8,286.25) scale(1,1.06)" font-size="10.7" text-anchor="end" fill="#222" stroke="#222" stroke-width="0.22" >0.5</text>
<line x1="513.9" y1="258.5" x2="518.2" y2="258.5" stroke="#111" stroke-width="1.1" />
<text x="0" y="0" transform="translate(512.8,262.1) scale(1,1.06)" font-size="10.7" text-anchor="end" fill="#222" stroke="#222" stroke-width="0.22" >1.0</text>
<line x1="513.9" y1="234.35" x2="518.2" y2="234.35" stroke="#111" stroke-width="1.1" />
<text x="0" y="0" transform="translate(512.8,237.95) scale(1,1.06)" font-size="10.7" text-anchor="end" fill="#222" stroke="#222" stroke-width="0.22" >1.5</text>
<line x1="513.9" y1="210.2" x2="518.2" y2="210.2" stroke="#111" stroke-width="1.1" />
<text x="0" y="0" transform="translate(512.8,213.8) scale(1,1.06)" font-size="10.7" text-anchor="end" fill="#222" stroke="#222" stroke-width="0.22" >2.0</text>
<line x1="541.15" y1="306.8" x2="541.15" y2="310.1" stroke="#111" stroke-width="1.1" />
<text x="0" y="0" transform="translate(541.15,321.2) scale(1,1.06)" font-size="10.7" text-anchor="middle" fill="#1c1c1c" stroke="#1c1c1c" stroke-width="0.22" >Vehicle</text>
<line x1="591.75" y1="306.8" x2="591.75" y2="310.1" stroke="#111" stroke-width="1.1" />
<text x="0" y="0" transform="translate(591.75,321.2) scale(1,1.06)" font-size="10.7" text-anchor="middle" fill="#1c1c1c" stroke="#1c1c1c" stroke-width="0.22" >Ferrostatin-1</text>
<text x="0" y="0" transform="translate(567.1,194.7) scale(1,1.06)" font-size="10.7" text-anchor="middle" fill="#1c1c1c" stroke="#1c1c1c" stroke-width="0.22" >ZR-75-1</text>
<text x="0" y="0" font-size="10.7" text-anchor="middle" fill="#1c1c1c" stroke="#1c1c1c" stroke-width="0.22" transform="translate(495.3,256.9) rotate(-90) scale(1,1.06)">relative cell viability</text>
<rect x="620.2" y="207" width="8.2" height="5.2" fill="#fff" stroke="#111111" stroke-width="2.2"/>
<text x="0" y="0" transform="translate(634.9,213) scale(1,1.06)" font-size="10.9" text-anchor="start" fill="#222" stroke="#222" stroke-width="0.22" >con-sh</text>
<rect x="620.2" y="217.6" width="8.2" height="5.2" fill="#fff" stroke="#f03c3c" stroke-width="2.2"/>
<text x="0" y="0" transform="translate(634.9,224) scale(1,1.06)" font-size="10.9" text-anchor="start" fill="#222" stroke="#222" stroke-width="0.22" >ERα-sh#30</text>
<rect x="620.2" y="228.6" width="8.2" height="5.2" fill="#fff" stroke="#1f1ff0" stroke-width="2.2"/>
<text x="0" y="0" transform="translate(634.9,234.7) scale(1,1.06)" font-size="10.9" text-anchor="start" fill="#222" stroke="#222" stroke-width="0.22" >ERα-sh#98</text>
<line x1="541.5" y1="218.4" x2="591.6" y2="218.4" stroke="#1a1a1a" stroke-width="1.0" />
<line x1="541.5" y1="216.2" x2="541.5" y2="220.6" stroke="#1a1a1a" stroke-width="1.1" />
<line x1="591.6" y1="216.2" x2="591.6" y2="220.6" stroke="#1a1a1a" stroke-width="1.1" />
<polygon points="561,209.1 561.65,210.57 563.25,210.4 562.3,211.7 563.25,213 561.65,212.83 561,214.3 560.35,212.83 558.75,213 559.7,211.7 558.75,210.4 560.35,210.57" fill="#111"/>
<polygon points="566.5,209.1 567.15,210.57 568.75,210.4 567.8,211.7 568.75,213 567.15,212.83 566.5,214.3 565.85,212.83 564.25,213 565.2,211.7 564.25,210.4 565.85,210.57" fill="#111"/>
<polygon points="572,209.1 572.65,210.57 574.25,210.4 573.3,211.7 574.25,213 572.65,212.83 572,214.3 571.35,212.83 569.75,213 570.7,211.7 569.75,210.4 571.35,210.57" fill="#111"/>
<line x1="555.1" y1="232.2" x2="605.3" y2="232.2" stroke="#1a1a1a" stroke-width="1.0" />
<line x1="555.1" y1="230" x2="555.1" y2="234.4" stroke="#1a1a1a" stroke-width="1.1" />
<line x1="605.3" y1="230" x2="605.3" y2="234.4" stroke="#1a1a1a" stroke-width="1.1" />
<polygon points="574.5,222.8 575.15,224.27 576.75,224.1 575.8,225.4 576.75,226.7 575.15,226.53 574.5,228 573.85,226.53 572.25,226.7 573.2,225.4 572.25,224.1 573.85,224.27" fill="#111"/>
<polygon points="580,222.8 580.65,224.27 582.25,224.1 581.3,225.4 582.25,226.7 580.65,226.53 580,228 579.35,226.53 577.75,226.7 578.7,225.4 577.75,224.1 579.35,224.27" fill="#111"/>
<polygon points="585.5,222.8 586.15,224.27 587.75,224.1 586.8,225.4 587.75,226.7 586.15,226.53 585.5,228 584.85,226.53 583.25,226.7 584.2,225.4 583.25,224.1 584.85,224.27" fill="#111"/>
<line x1="527.65" y1="420.8" x2="527.65" y2="415.64" stroke="#111111" stroke-width="1.1" />
<line x1="525.45" y1="415.64" x2="529.85" y2="415.64" stroke="#111111" stroke-width="1.15" />
<rect x="523.8" y="420.8" width="7.7" height="58.6" fill="#fff" stroke="none"/>
<path d="M523.8,479.4 L523.8,420.8 L531.5,420.8 L531.5,479.4" fill="none" stroke="#111111" stroke-width="1.8" stroke-linejoin="round"/>
<line x1="541.35" y1="466.71" x2="541.35" y2="465.88" stroke="#f03c3c" stroke-width="1.1" />
<line x1="539.15" y1="465.88" x2="543.55" y2="465.88" stroke="#f03c3c" stroke-width="1.15" />
<rect x="537.5" y="466.71" width="7.7" height="12.69" fill="#fff" stroke="none"/>
<path d="M537.5,479.4 L537.5,466.71 L545.2,466.71 L545.2,479.4" fill="none" stroke="#f03c3c" stroke-width="1.8" stroke-linejoin="round"/>
<line x1="555.15" y1="462.78" x2="555.15" y2="461.69" stroke="#1f1ff0" stroke-width="1.1" />
<line x1="552.95" y1="461.69" x2="557.35" y2="461.69" stroke="#1f1ff0" stroke-width="1.15" />
<rect x="551.3" y="462.78" width="7.7" height="16.62" fill="#fff" stroke="none"/>
<path d="M551.3,479.4 L551.3,462.78 L559,462.78 L559,479.4" fill="none" stroke="#1f1ff0" stroke-width="1.8" stroke-linejoin="round"/>
<line x1="578.25" y1="466.2" x2="578.25" y2="465.55" stroke="#111111" stroke-width="1.1" />
<line x1="576.05" y1="465.55" x2="580.45" y2="465.55" stroke="#111111" stroke-width="1.15" />
<rect x="574.4" y="466.2" width="7.7" height="13.2" fill="#fff" stroke="none"/>
<path d="M574.4,479.4 L574.4,466.2 L582.1,466.2 L582.1,479.4" fill="none" stroke="#111111" stroke-width="1.8" stroke-linejoin="round"/>
<line x1="591.95" y1="468.13" x2="591.95" y2="467.81" stroke="#f03c3c" stroke-width="1.1" />
<line x1="589.75" y1="467.81" x2="594.15" y2="467.81" stroke="#f03c3c" stroke-width="1.15" />
<rect x="588.1" y="468.13" width="7.7" height="11.27" fill="#fff" stroke="none"/>
<path d="M588.1,479.4 L588.1,468.13 L595.8,468.13 L595.8,479.4" fill="none" stroke="#f03c3c" stroke-width="1.8" stroke-linejoin="round"/>
<line x1="605.75" y1="469.87" x2="605.75" y2="469.42" stroke="#1f1ff0" stroke-width="1.1" />
<line x1="603.55" y1="469.42" x2="607.95" y2="469.42" stroke="#1f1ff0" stroke-width="1.15" />
<rect x="601.9" y="469.87" width="7.7" height="9.53" fill="#fff" stroke="none"/>
<path d="M601.9,479.4 L601.9,469.87 L609.6,469.87 L609.6,479.4" fill="none" stroke="#1f1ff0" stroke-width="1.8" stroke-linejoin="round"/>
<line x1="518.4" y1="382.3" x2="518.4" y2="480" stroke="#111" stroke-width="1.2" />
<line x1="514.1" y1="479.4" x2="615.4" y2="479.4" stroke="#111" stroke-width="1.2" />
<line x1="514.1" y1="479.4" x2="518.4" y2="479.4" stroke="#111" stroke-width="1.1" />
<text x="0" y="0" transform="translate(513,483) scale(1,1.06)" font-size="10.7" text-anchor="end" fill="#222" stroke="#222" stroke-width="0.22" >0.0</text>
<line x1="514.1" y1="447.2" x2="518.4" y2="447.2" stroke="#111" stroke-width="1.1" />
<text x="0" y="0" transform="translate(513,450.8) scale(1,1.06)" font-size="10.7" text-anchor="end" fill="#222" stroke="#222" stroke-width="0.22" >0.5</text>
<line x1="514.1" y1="415" x2="518.4" y2="415" stroke="#111" stroke-width="1.1" />
<text x="0" y="0" transform="translate(513,418.6) scale(1,1.06)" font-size="10.7" text-anchor="end" fill="#222" stroke="#222" stroke-width="0.22" >1.0</text>
<line x1="514.1" y1="382.8" x2="518.4" y2="382.8" stroke="#111" stroke-width="1.1" />
<text x="0" y="0" transform="translate(513,386.4) scale(1,1.06)" font-size="10.7" text-anchor="end" fill="#222" stroke="#222" stroke-width="0.22" >1.5</text>
<line x1="541.35" y1="479.4" x2="541.35" y2="482.7" stroke="#111" stroke-width="1.1" />
<text x="0" y="0" transform="translate(541.35,493.8) scale(1,1.06)" font-size="10.7" text-anchor="middle" fill="#1c1c1c" stroke="#1c1c1c" stroke-width="0.22" >Vehicle</text>
<line x1="591.95" y1="479.4" x2="591.95" y2="482.7" stroke="#111" stroke-width="1.1" />
<text x="0" y="0" transform="translate(591.95,493.8) scale(1,1.06)" font-size="10.7" text-anchor="middle" fill="#1c1c1c" stroke="#1c1c1c" stroke-width="0.22" >Erastin</text>
<text x="0" y="0" transform="translate(567.2,365.4) scale(1,1.06)" font-size="10.7" text-anchor="middle" fill="#1c1c1c" stroke="#1c1c1c" stroke-width="0.22" >MCF-7</text>
<text x="0" y="0" font-size="10.7" text-anchor="middle" fill="#1c1c1c" stroke="#1c1c1c" stroke-width="0.22" transform="translate(492.6,427.8) rotate(-90) scale(1,1.06)">Absorbance (540nm)</text>
<rect x="613.3" y="383.4" width="8.7" height="5.2" fill="#fff" stroke="#111111" stroke-width="2.2"/>
<text x="0" y="0" transform="translate(628.6,389.4) scale(1,1.06)" font-size="10.9" text-anchor="start" fill="#222" stroke="#222" stroke-width="0.22" >con-sh</text>
<rect x="613.3" y="394.4" width="8.7" height="5.2" fill="#fff" stroke="#f03c3c" stroke-width="2.2"/>
<text x="0" y="0" transform="translate(628.6,400.5) scale(1,1.06)" font-size="10.9" text-anchor="start" fill="#222" stroke="#222" stroke-width="0.22" >ERα-sh#30</text>
<rect x="613.3" y="405.9" width="8.7" height="5.2" fill="#fff" stroke="#1f1ff0" stroke-width="2.2"/>
<text x="0" y="0" transform="translate(628.6,411.2) scale(1,1.06)" font-size="10.9" text-anchor="start" fill="#222" stroke="#222" stroke-width="0.22" >ERα-sh#98</text>
<line x1="527.4" y1="408.5" x2="578.4" y2="408.5" stroke="#1a1a1a" stroke-width="1.0" />
<line x1="527.4" y1="406.3" x2="527.4" y2="410.7" stroke="#1a1a1a" stroke-width="1.1" />
<line x1="578.4" y1="406.3" x2="578.4" y2="410.7" stroke="#1a1a1a" stroke-width="1.1" />
<polygon points="547.1,398.9 547.75,400.37 549.35,400.2 548.4,401.5 549.35,402.8 547.75,402.63 547.1,404.1 546.45,402.63 544.85,402.8 545.8,401.5 544.85,400.2 546.45,400.37" fill="#111"/>
<polygon points="552.6,398.9 553.25,400.37 554.85,400.2 553.9,401.5 554.85,402.8 553.25,402.63 552.6,404.1 551.95,402.63 550.35,402.8 551.3,401.5 550.35,400.2 551.95,400.37" fill="#111"/>
<polygon points="558.1,398.9 558.75,400.37 560.35,400.2 559.4,401.5 560.35,402.8 558.75,402.63 558.1,404.1 557.45,402.63 555.85,402.8 556.8,401.5 555.85,400.2 557.45,400.37" fill="#111"/>
<line x1="541.5" y1="421.7" x2="592" y2="421.7" stroke="#1a1a1a" stroke-width="1.0" />
<line x1="541.5" y1="419.5" x2="541.5" y2="423.9" stroke="#1a1a1a" stroke-width="1.1" />
<line x1="592" y1="419.5" x2="592" y2="423.9" stroke="#1a1a1a" stroke-width="1.1" />
<polygon points="566.4,412.1 567.05,413.57 568.65,413.4 567.7,414.7 568.65,416 567.05,415.83 566.4,417.3 565.75,415.83 564.15,416 565.1,414.7 564.15,413.4 565.75,413.57" fill="#111"/>
<line x1="555.5" y1="437" x2="605.7" y2="437" stroke="#a0a0a0" stroke-width="1.6" />
<line x1="555.5" y1="434.8" x2="555.5" y2="439.2" stroke="#1a1a1a" stroke-width="1.1" />
<line x1="605.7" y1="434.8" x2="605.7" y2="439.2" stroke="#1a1a1a" stroke-width="1.1" />
<polygon points="575,427.9 575.65,429.37 577.25,429.2 576.3,430.5 577.25,431.8 575.65,431.63 575,433.1 574.35,431.63 572.75,431.8 573.7,430.5 572.75,429.2 574.35,429.37" fill="#111"/>
<polygon points="580.5,427.9 581.15,429.37 582.75,429.2 581.8,430.5 582.75,431.8 581.15,431.63 580.5,433.1 579.85,431.63 578.25,431.8 579.2,430.5 578.25,429.2 579.85,429.37" fill="#111"/>
<polygon points="586,427.9 586.65,429.37 588.25,429.2 587.3,430.5 588.25,431.8 586.65,431.63 586,433.1 585.35,431.63 583.75,431.8 584.7,430.5 583.75,429.2 585.35,429.37" fill="#111"/>
<line x1="527.65" y1="569.8" x2="527.65" y2="563.26" stroke="#111111" stroke-width="1.1" />
<line x1="525.45" y1="563.26" x2="529.85" y2="563.26" stroke="#111111" stroke-width="1.15" />
<rect x="523.8" y="569.8" width="7.7" height="67.6" fill="#fff" stroke="none"/>
<path d="M523.8,637.4 L523.8,569.8 L531.5,569.8 L531.5,637.4" fill="none" stroke="#111111" stroke-width="1.8" stroke-linejoin="round"/>
<line x1="541.35" y1="608.92" x2="541.35" y2="606.97" stroke="#f03c3c" stroke-width="1.1" />
<line x1="539.15" y1="606.97" x2="543.55" y2="606.97" stroke="#f03c3c" stroke-width="1.15" />
<rect x="537.5" y="608.92" width="7.7" height="28.48" fill="#fff" stroke="none"/>
<path d="M537.5,637.4 L537.5,608.92 L545.2,608.92 L545.2,637.4" fill="none" stroke="#f03c3c" stroke-width="1.8" stroke-linejoin="round"/>
<line x1="555.15" y1="607.47" x2="555.15" y2="605.52" stroke="#1f1ff0" stroke-width="1.1" />
<line x1="552.95" y1="605.52" x2="557.35" y2="605.52" stroke="#1f1ff0" stroke-width="1.15" />
<rect x="551.3" y="607.47" width="7.7" height="29.93" fill="#fff" stroke="none"/>
<path d="M551.3,637.4 L551.3,607.47 L559,607.47 L559,637.4" fill="none" stroke="#1f1ff0" stroke-width="1.8" stroke-linejoin="round"/>
<line x1="578.25" y1="587.18" x2="578.25" y2="586.2" stroke="#111111" stroke-width="1.1" />
<line x1="576.05" y1="586.2" x2="580.45" y2="586.2" stroke="#111111" stroke-width="1.15" />
<rect x="574.4" y="587.18" width="7.7" height="50.22" fill="#fff" stroke="none"/>
<path d="M574.4,637.4 L574.4,587.18 L582.1,587.18 L582.1,637.4" fill="none" stroke="#111111" stroke-width="1.8" stroke-linejoin="round"/>
<line x1="591.95" y1="620.75" x2="591.95" y2="620.01" stroke="#f03c3c" stroke-width="1.1" />
<line x1="589.75" y1="620.01" x2="594.15" y2="620.01" stroke="#f03c3c" stroke-width="1.15" />
<rect x="588.1" y="620.75" width="7.7" height="16.65" fill="#fff" stroke="none"/>
<path d="M588.1,637.4 L588.1,620.75 L595.8,620.75 L595.8,637.4" fill="none" stroke="#f03c3c" stroke-width="1.8" stroke-linejoin="round"/>
<line x1="605.75" y1="623.17" x2="605.75" y2="620.5" stroke="#1f1ff0" stroke-width="1.1" />
<line x1="603.55" y1="620.5" x2="607.95" y2="620.5" stroke="#1f1ff0" stroke-width="1.15" />
<rect x="601.9" y="623.17" width="7.7" height="14.23" fill="#fff" stroke="none"/>
<path d="M601.9,637.4 L601.9,623.17 L609.6,623.17 L609.6,637.4" fill="none" stroke="#1f1ff0" stroke-width="1.8" stroke-linejoin="round"/>
<line x1="518.4" y1="540.3" x2="518.4" y2="638" stroke="#111" stroke-width="1.2" />
<line x1="514.1" y1="637.4" x2="615.4" y2="637.4" stroke="#111" stroke-width="1.2" />
<line x1="514.1" y1="637.4" x2="518.4" y2="637.4" stroke="#111" stroke-width="1.1" />
<text x="0" y="0" transform="translate(513,641) scale(1,1.06)" font-size="10.7" text-anchor="end" fill="#222" stroke="#222" stroke-width="0.22" >0.0</text>
<line x1="514.1" y1="613.25" x2="518.4" y2="613.25" stroke="#111" stroke-width="1.1" />
<text x="0" y="0" transform="translate(513,616.85) scale(1,1.06)" font-size="10.7" text-anchor="end" fill="#222" stroke="#222" stroke-width="0.22" >0.5</text>
<line x1="514.1" y1="589.1" x2="518.4" y2="589.1" stroke="#111" stroke-width="1.1" />
<text x="0" y="0" transform="translate(513,592.7) scale(1,1.06)" font-size="10.7" text-anchor="end" fill="#222" stroke="#222" stroke-width="0.22" >1.0</text>
<line x1="514.1" y1="564.95" x2="518.4" y2="564.95" stroke="#111" stroke-width="1.1" />
<text x="0" y="0" transform="translate(513,568.55) scale(1,1.06)" font-size="10.7" text-anchor="end" fill="#222" stroke="#222" stroke-width="0.22" >1.5</text>
<line x1="514.1" y1="540.8" x2="518.4" y2="540.8" stroke="#111" stroke-width="1.1" />
<text x="0" y="0" transform="translate(513,544.4) scale(1,1.06)" font-size="10.7" text-anchor="end" fill="#222" stroke="#222" stroke-width="0.22" >2.0</text>
<line x1="541.35" y1="637.4" x2="541.35" y2="640.7" stroke="#111" stroke-width="1.1" />
<text x="0" y="0" transform="translate(541.35,651.8) scale(1,1.06)" font-size="10.7" text-anchor="middle" fill="#1c1c1c" stroke="#1c1c1c" stroke-width="0.22" >Vehicle</text>
<line x1="591.95" y1="637.4" x2="591.95" y2="640.7" stroke="#111" stroke-width="1.1" />
<text x="0" y="0" transform="translate(591.95,651.8) scale(1,1.06)" font-size="10.7" text-anchor="middle" fill="#1c1c1c" stroke="#1c1c1c" stroke-width="0.22" >Erastin</text>
<text x="0" y="0" transform="translate(571.7,521) scale(1,1.06)" font-size="10.7" text-anchor="middle" fill="#1c1c1c" stroke="#1c1c1c" stroke-width="0.22" >ZR-75-1</text>
<text x="0" y="0" font-size="10.7" text-anchor="middle" fill="#1c1c1c" stroke="#1c1c1c" stroke-width="0.22" transform="translate(492.6,585.6) rotate(-90) scale(1,1.06)">Absorbance (540nm)</text>
<rect x="620.7" y="542" width="8.3" height="5.2" fill="#fff" stroke="#111111" stroke-width="2.2"/>
<text x="0" y="0" transform="translate(636,547.7) scale(1,1.06)" font-size="10.9" text-anchor="start" fill="#222" stroke="#222" stroke-width="0.22" >con-sh</text>
<rect x="620.7" y="553.6" width="8.3" height="5.2" fill="#fff" stroke="#f03c3c" stroke-width="2.2"/>
<text x="0" y="0" transform="translate(636,560) scale(1,1.06)" font-size="10.9" text-anchor="start" fill="#222" stroke="#222" stroke-width="0.22" >ERα-sh#30</text>
<rect x="620.7" y="566.5" width="8.3" height="5.2" fill="#fff" stroke="#1f1ff0" stroke-width="2.2"/>
<text x="0" y="0" transform="translate(636,572.3) scale(1,1.06)" font-size="10.9" text-anchor="start" fill="#222" stroke="#222" stroke-width="0.22" >ERα-sh#98</text>
<line x1="527.4" y1="548.8" x2="578.3" y2="548.8" stroke="#a0a0a0" stroke-width="1.6" />
<line x1="527.4" y1="546.6" x2="527.4" y2="551" stroke="#1a1a1a" stroke-width="1.1" />
<line x1="578.3" y1="546.6" x2="578.3" y2="551" stroke="#1a1a1a" stroke-width="1.1" />
<polygon points="547.3,539.5 547.95,540.97 549.55,540.8 548.6,542.1 549.55,543.4 547.95,543.23 547.3,544.7 546.65,543.23 545.05,543.4 546,542.1 545.05,540.8 546.65,540.97" fill="#111"/>
<polygon points="552.8,539.5 553.45,540.97 555.05,540.8 554.1,542.1 555.05,543.4 553.45,543.23 552.8,544.7 552.15,543.23 550.55,543.4 551.5,542.1 550.55,540.8 552.15,540.97" fill="#111"/>
<polygon points="558.3,539.5 558.95,540.97 560.55,540.8 559.6,542.1 560.55,543.4 558.95,543.23 558.3,544.7 557.65,543.23 556.05,543.4 557,542.1 556.05,540.8 557.65,540.97" fill="#111"/>
<line x1="541.5" y1="561.8" x2="591.9" y2="561.8" stroke="#606060" stroke-width="1.6" />
<line x1="541.5" y1="559.6" x2="541.5" y2="564" stroke="#1a1a1a" stroke-width="1.1" />
<line x1="591.9" y1="559.6" x2="591.9" y2="564" stroke="#1a1a1a" stroke-width="1.1" />
<polygon points="561.1,552.4 561.75,553.87 563.35,553.7 562.4,555 563.35,556.3 561.75,556.13 561.1,557.6 560.45,556.13 558.85,556.3 559.8,555 558.85,553.7 560.45,553.87" fill="#111"/>
<polygon points="566.6,552.4 567.25,553.87 568.85,553.7 567.9,555 568.85,556.3 567.25,556.13 566.6,557.6 565.95,556.13 564.35,556.3 565.3,555 564.35,553.7 565.95,553.87" fill="#111"/>
<polygon points="572.1,552.4 572.75,553.87 574.35,553.7 573.4,555 574.35,556.3 572.75,556.13 572.1,557.6 571.45,556.13 569.85,556.3 570.8,555 569.85,553.7 571.45,553.87" fill="#111"/>
<line x1="555.8" y1="575.2" x2="605.8" y2="575.2" stroke="#1a1a1a" stroke-width="1.0" />
<line x1="555.8" y1="573" x2="555.8" y2="577.4" stroke="#1a1a1a" stroke-width="1.1" />
<line x1="605.8" y1="573" x2="605.8" y2="577.4" stroke="#1a1a1a" stroke-width="1.1" />
<polygon points="575.1,565.7 575.75,567.17 577.35,567 576.4,568.3 577.35,569.6 575.75,569.43 575.1,570.9 574.45,569.43 572.85,569.6 573.8,568.3 572.85,567 574.45,567.17" fill="#111"/>
<polygon points="580.6,565.7 581.25,567.17 582.85,567 581.9,568.3 582.85,569.6 581.25,569.43 580.6,570.9 579.95,569.43 578.35,569.6 579.3,568.3 578.35,567 579.95,567.17" fill="#111"/>
<polygon points="586.1,565.7 586.75,567.17 588.35,567 587.4,568.3 588.35,569.6 586.75,569.43 586.1,570.9 585.45,569.43 583.85,569.6 584.8,568.3 583.85,567 585.45,567.17" fill="#111"/>
</svg>
</body></html>
